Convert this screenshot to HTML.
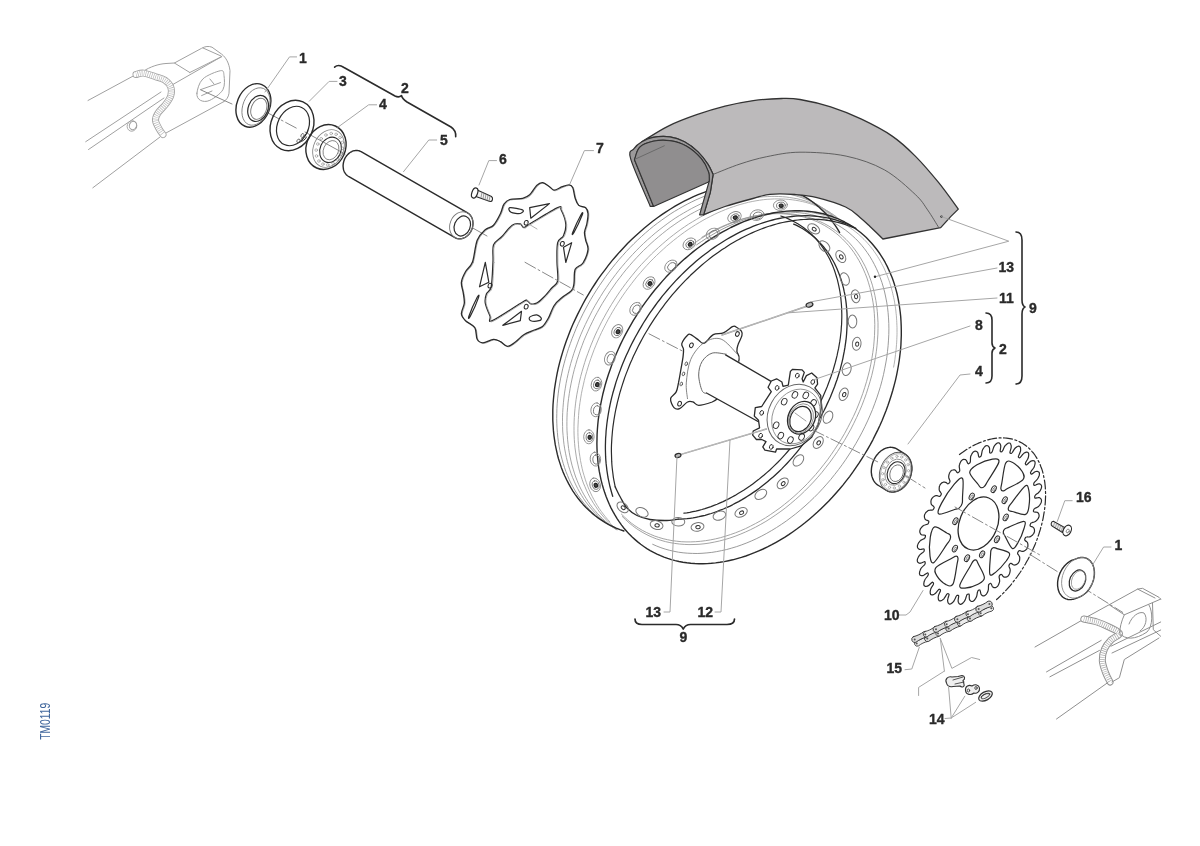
<!DOCTYPE html>
<html><head><meta charset="utf-8"><style>
html,body{margin:0;padding:0;background:#fff;}
svg{display:block;will-change:transform;}
text{font-family:"Liberation Sans",sans-serif;font-weight:bold;fill:#2a2a2a;stroke:#2a2a2a;stroke-width:0.35px;}
</style></head><body>
<svg width="1200" height="846" viewBox="0 0 1200 846" stroke-linecap="round" stroke-linejoin="round">
<path d="M88.0,100.5 L136.0,74.5" fill="none" stroke="#a0a0a0" stroke-width="1" />
<path d="M85.7,141.7 L161.0,92.0" fill="none" stroke="#a0a0a0" stroke-width="1" />
<path d="M172.0,85.0 L221.7,56.6" fill="none" stroke="#a0a0a0" stroke-width="1" />
<path d="M88.5,149.5 L164.0,98.0" fill="none" stroke="#a0a0a0" stroke-width="1" />
<path d="M92.8,187.8 L160.0,137.0" fill="none" stroke="#a0a0a0" stroke-width="1" />
<path d="M166.0,133.0 L224.0,101.5" fill="none" stroke="#a0a0a0" stroke-width="1" />
<path d="M143.6,71 C150,67 158,64 166,63.5 L174.4,63 L201.6,48.3 C205,46.2 209,46 212,47.2 L221.7,54.2 C226,57.5 229,63 230,70.7 L229,93.2 C228.5,97 226.5,100 224,101.5" fill="none" stroke="#a0a0a0" stroke-width="1" />
<path d="M174.4,63.0 L189.8,72.5" fill="none" stroke="#a0a0a0" stroke-width="1" />
<path d="M189.8,72.5 L221.7,56.6" fill="none" stroke="#a0a0a0" stroke-width="1" />
<path d="M203.0,48.0 L221.0,56.0" fill="none" stroke="#a0a0a0" stroke-width="1" />
<path d="M196.9,93.2 C197.3,89.7 198.9,82.8 202.8,79.0 C206.7,75.2 217.0,71.3 220.5,70.7 C224.0,70.1 223.6,72.3 224.0,75.5 C224.4,78.7 225.2,85.6 222.9,89.7 C220.6,93.8 213.7,98.5 209.9,100.3 C206.2,102.1 202.6,101.5 200.4,100.3 C198.2,99.1 196.5,96.8 196.9,93.2 Z" fill="none" stroke="#a0a0a0" stroke-width="1" />
<path d="M200.4,89.7 L220.5,82.6" fill="none" stroke="#a0a0a0" stroke-width="1" />
<path d="M209.9,79.0 L214.0,84.0" fill="none" stroke="#a0a0a0" stroke-width="1" />
<path d="M201.6,95.6 L212.0,91.0" fill="none" stroke="#a0a0a0" stroke-width="1" />
<path d="M136.0,74.5 C137.3,74.3 140.3,72.7 143.6,73.1 C146.8,73.5 151.9,75.5 155.5,76.7 C159.1,77.9 162.3,78.4 164.9,80.2 C167.5,82.0 169.8,84.7 170.8,87.3 C171.8,89.9 171.6,92.8 170.8,95.6 C170.0,98.3 168.3,100.8 166.1,103.8 C163.9,106.8 159.6,110.5 157.8,113.3 C156.0,116.1 155.3,117.8 155.5,120.4 C155.7,123.0 157.8,126.3 159.0,128.7 C160.2,131.1 162.3,133.6 163.0,134.6" fill="none" stroke="#a4a4a4" stroke-width="7" />
<path d="M136.0,74.5 C137.3,74.3 140.3,72.7 143.6,73.1 C146.8,73.5 151.9,75.5 155.5,76.7 C159.1,77.9 162.3,78.4 164.9,80.2 C167.5,82.0 169.8,84.7 170.8,87.3 C171.8,89.9 171.6,92.8 170.8,95.6 C170.0,98.3 168.3,100.8 166.1,103.8 C163.9,106.8 159.6,110.5 157.8,113.3 C156.0,116.1 155.3,117.8 155.5,120.4 C155.7,123.0 157.8,126.3 159.0,128.7 C160.2,131.1 162.3,133.6 163.0,134.6" fill="none" stroke="#fff" stroke-width="5.2" />
<path d="M136.0,74.5 C137.3,74.3 140.3,72.7 143.6,73.1 C146.8,73.5 151.9,75.5 155.5,76.7 C159.1,77.9 162.3,78.4 164.9,80.2 C167.5,82.0 169.8,84.7 170.8,87.3 C171.8,89.9 171.6,92.8 170.8,95.6 C170.0,98.3 168.3,100.8 166.1,103.8 C163.9,106.8 159.6,110.5 157.8,113.3 C156.0,116.1 155.3,117.8 155.5,120.4 C155.7,123.0 157.8,126.3 159.0,128.7 C160.2,131.1 162.3,133.6 163.0,134.6" fill="none" stroke="#b8b8b8" stroke-width="5.2" stroke-dasharray="0.7 1.3" stroke-linecap="butt"/>
<ellipse cx="133" cy="125.5" rx="3.6" ry="4.2" transform="rotate(20 133 125.5)" fill="none" stroke="#a0a0a0" stroke-width="1" />
<ellipse cx="132" cy="126" rx="4.8" ry="5.3" transform="rotate(20 132 126)" fill="none" stroke="#a0a0a0" stroke-width="0.8" />
<line x1="201" y1="90" x2="232" y2="104" stroke="#888" stroke-width="1" />
<line x1="268" y1="113" x2="298" y2="129" stroke="#888" stroke-width="1" stroke-dasharray="12 3 2 3"/>
<line x1="305" y1="132" x2="345" y2="154" stroke="#888" stroke-width="1" />
<line x1="462" y1="222" x2="487" y2="236" stroke="#888" stroke-width="1" />
<ellipse cx="253.4" cy="105.4" rx="16.5" ry="22.5" transform="rotate(22 253.4 105.4)" fill="none" stroke="#2b2b2b" stroke-width="1.4" />
<ellipse cx="256" cy="106.5" rx="13" ry="19.5" transform="rotate(22 256 106.5)" fill="none" stroke="#777" stroke-width="0.8" />
<ellipse cx="258.1" cy="108.4" rx="9.8" ry="13.5" transform="rotate(22 258.1 108.4)" fill="none" stroke="#2b2b2b" stroke-width="1.2" />
<ellipse cx="258.8" cy="108.8" rx="7.5" ry="11" transform="rotate(22 258.8 108.8)" fill="none" stroke="#777" stroke-width="0.9" />
<ellipse cx="292" cy="125.5" rx="21" ry="26" transform="rotate(25 292 125.5)" fill="none" stroke="#2b2b2b" stroke-width="1.4" />
<ellipse cx="293" cy="126" rx="15.5" ry="20.5" transform="rotate(25 293 126)" fill="none" stroke="#2b2b2b" stroke-width="1.2" />
<path d="M301.5,139 C304,136 307,134 308,131 M299,142.5 C302.5,141 305.5,140 306.5,137" fill="none" stroke="#2b2b2b" stroke-width="1.0" />
<ellipse cx="302.5" cy="135.5" rx="1.5" ry="2" transform="rotate(25 302.5 135.5)" fill="none" stroke="#555" stroke-width="0.8" />
<ellipse cx="298.5" cy="141" rx="1.5" ry="2" transform="rotate(25 298.5 141)" fill="none" stroke="#555" stroke-width="0.8" />
<ellipse cx="326" cy="147" rx="19.5" ry="23" transform="rotate(24 326 147)" fill="none" stroke="#2b2b2b" stroke-width="1.4" />
<ellipse cx="328.5" cy="148.5" rx="15" ry="19.5" transform="rotate(24 328.5 148.5)" fill="none" stroke="#888" stroke-width="0.9" />
<ellipse cx="330.5" cy="149.8" rx="10.5" ry="13" transform="rotate(24 330.5 149.8)" fill="none" stroke="#2b2b2b" stroke-width="1.1" />
<ellipse cx="331" cy="150.2" rx="7.5" ry="10" transform="rotate(24 331 150.2)" fill="none" stroke="#777" stroke-width="0.8" />
<circle cx="341.2" cy="154.4" r="1.3" fill="none" stroke="#888" stroke-width="0.6"/>
<circle cx="337.8" cy="159.7" r="1.3" fill="none" stroke="#888" stroke-width="0.6"/>
<circle cx="333.1" cy="163.4" r="1.3" fill="none" stroke="#888" stroke-width="0.6"/>
<circle cx="327.8" cy="164.9" r="1.3" fill="none" stroke="#888" stroke-width="0.6"/>
<circle cx="322.9" cy="164.1" r="1.3" fill="none" stroke="#888" stroke-width="0.6"/>
<circle cx="318.9" cy="161.0" r="1.3" fill="none" stroke="#888" stroke-width="0.6"/>
<circle cx="316.5" cy="156.0" r="1.3" fill="none" stroke="#888" stroke-width="0.6"/>
<circle cx="316.2" cy="150.1" r="1.3" fill="none" stroke="#888" stroke-width="0.6"/>
<circle cx="317.8" cy="144.0" r="1.3" fill="none" stroke="#888" stroke-width="0.6"/>
<circle cx="321.2" cy="138.7" r="1.3" fill="none" stroke="#888" stroke-width="0.6"/>
<circle cx="325.9" cy="135.0" r="1.3" fill="none" stroke="#888" stroke-width="0.6"/>
<circle cx="331.2" cy="133.5" r="1.3" fill="none" stroke="#888" stroke-width="0.6"/>
<circle cx="336.1" cy="134.3" r="1.3" fill="none" stroke="#888" stroke-width="0.6"/>
<circle cx="340.1" cy="137.4" r="1.3" fill="none" stroke="#888" stroke-width="0.6"/>
<circle cx="342.5" cy="142.4" r="1.3" fill="none" stroke="#888" stroke-width="0.6"/>
<circle cx="342.8" cy="148.3" r="1.3" fill="none" stroke="#888" stroke-width="0.6"/>
<path d="M343.1,166.3 L343.1,165.4 L343.2,164.4 L343.3,163.5 L343.5,162.5 L343.7,161.6 L344.0,160.7 L344.3,159.8 L344.7,158.9 L345.1,158.0 L345.6,157.2 L346.2,156.4 L346.7,155.6 L347.4,154.9 L348.0,154.2 L348.7,153.6 L349.4,153.0 L350.1,152.5 L350.9,152.0 L351.7,151.6 L352.4,151.2 L353.3,150.9 L354.1,150.7 L354.9,150.6 L355.7,150.5 L356.5,150.4 L357.3,150.5 L358.1,150.6 L358.9,150.7 L359.6,151.0 L360.4,151.3 L361.1,151.6 L467.6,212.9 L468.2,213.3 L468.9,213.8 L469.5,214.3 L470.1,214.9 L470.6,215.6 L471.1,216.3 L471.5,217.0 L471.9,217.8 L472.2,218.6 L472.4,219.4 L472.7,220.3 L472.8,221.2 L472.9,222.1 L473.0,223.0 L473.0,223.9 L472.9,224.9 L472.8,225.8 L472.6,226.8 L472.4,227.7 L472.1,228.6 L471.8,229.5 L471.4,230.4 L470.9,231.3 L470.5,232.1 L469.9,232.9 L469.4,233.7 L468.8,234.4 L468.1,235.1 L467.4,235.7 L466.7,236.3 L466.0,236.8 L465.2,237.3 L464.4,237.7 L463.6,238.1 L462.8,238.3 L462.0,238.6 L461.2,238.7 L460.4,238.8 L459.6,238.9 L458.8,238.8 L458.0,238.7 L457.2,238.6 L456.5,238.3 L455.7,238.0 L455.0,237.7 L348.5,176.4 L347.9,176.0 L347.2,175.5 L346.6,174.9 L346.1,174.4 L345.5,173.7 L345.1,173.0 L344.6,172.3 L344.2,171.6 L343.9,170.8 L343.6,169.9 L343.4,169.0 L343.3,168.2 L343.2,167.2 Z" fill="#fff" stroke="#2b2b2b" stroke-width="1.4" />
<ellipse cx="461.3" cy="225.3" rx="11.3" ry="13.9" transform="rotate(22 461.3 225.3)" fill="none" stroke="#777" stroke-width="0.9" />
<ellipse cx="462.3" cy="226" rx="7.9" ry="10.3" transform="rotate(22 462.3 226)" fill="none" stroke="#2b2b2b" stroke-width="1.2" />
<path d="M475,189 L491.5,196.5 C493.5,198 492.5,202 490,201.5 L474.5,196 Z" fill="#f4f4f4" stroke="#2b2b2b" stroke-width="1.1" />
<line x1="482" y1="192.5" x2="481" y2="197.5" stroke="#777" stroke-width="0.7" />
<line x1="484" y1="193.45" x2="483" y2="198.45" stroke="#777" stroke-width="0.7" />
<line x1="486" y1="194.4" x2="485" y2="199.4" stroke="#777" stroke-width="0.7" />
<line x1="488" y1="195.35" x2="487" y2="200.35" stroke="#777" stroke-width="0.7" />
<line x1="490" y1="196.3" x2="489" y2="201.3" stroke="#777" stroke-width="0.7" />
<ellipse cx="474.7" cy="193" rx="2.8" ry="5.2" transform="rotate(20 474.7 193)" fill="#fff" stroke="#2b2b2b" stroke-width="1.2" />
<path d="M473.3,262.6 C475.2,257.4 475.9,246.3 478.0,240.9 C480.1,235.5 483.4,232.9 486.1,230.4 C488.8,227.9 491.8,228.5 494.3,225.8 C496.8,223.1 499.6,217.6 501.3,214.1 C503.1,210.6 503.2,207.1 504.8,204.8 C506.4,202.5 507.5,201.1 510.6,200.1 C513.7,199.1 520.2,199.7 523.5,198.9 C526.8,198.1 528.2,197.5 530.5,195.4 C532.8,193.3 535.4,188.1 537.5,186.1 C539.6,184.1 541.2,183.0 543.3,183.2 C545.4,183.4 548.3,186.0 550.3,187.3 C552.2,188.6 552.9,190.8 555.0,190.8 C557.1,190.8 560.6,188.2 563.1,187.3 C565.6,186.4 568.3,185.3 570.1,185.5 C571.8,185.7 572.6,186.2 573.6,188.4 C574.6,190.6 575.0,196.0 576.0,198.9 C577.0,201.8 577.8,204.3 579.5,205.9 C581.2,207.5 585.0,206.9 586.5,208.3 C588.0,209.7 588.6,211.4 588.8,214.1 C589.0,216.8 588.2,221.5 587.6,224.6 C587.0,227.7 585.5,230.1 585.3,232.8 C585.1,235.5 585.9,238.0 586.5,240.9 C587.1,243.8 589.2,246.5 588.8,250.3 C588.3,254.1 585.9,260.3 583.8,263.6 C581.7,266.9 577.5,266.5 576.0,269.9 C574.5,273.3 575.4,280.4 574.8,283.9 C574.2,287.4 574.5,288.6 572.5,290.9 C570.5,293.2 566.0,295.4 563.1,297.9 C560.2,300.4 557.3,302.6 555.0,306.1 C552.7,309.6 551.0,315.4 549.1,318.9 C547.1,322.4 545.6,325.2 543.3,327.1 C541.0,329.1 538.2,329.2 535.1,330.6 C532.0,332.0 527.7,333.4 524.6,335.3 C521.5,337.2 519.2,340.4 516.5,342.3 C513.8,344.2 510.8,346.9 508.3,346.9 C505.8,346.9 503.6,343.5 501.3,342.3 C499.0,341.1 497.2,339.7 494.3,339.9 C491.4,340.1 486.5,343.4 483.8,343.4 C481.1,343.4 479.4,342.4 478.0,339.9 C476.6,337.4 477.6,331.4 475.6,328.3 C473.7,325.2 468.5,323.6 466.3,321.3 C464.1,319.0 462.4,317.2 462.2,314.3 C462.0,311.4 464.8,307.3 465.1,303.8 C465.4,300.3 464.5,296.8 464.0,293.3 C463.5,289.8 461.8,286.3 462.2,282.8 C462.6,279.3 464.4,275.7 466.3,272.3 C468.2,268.9 471.4,267.8 473.3,262.6 Z" fill="none" stroke="#9a9a9a" stroke-width="0.8" />
<path d="M472.5,262.0 C474.4,256.8 475.1,245.7 477.2,240.3 C479.3,234.9 482.6,232.3 485.3,229.8 C488.0,227.3 491.0,227.9 493.5,225.2 C496.0,222.5 498.8,217.0 500.5,213.5 C502.2,210.0 502.4,206.5 504.0,204.2 C505.6,201.9 506.7,200.5 509.8,199.5 C512.9,198.5 519.4,199.1 522.7,198.3 C526.0,197.5 527.4,196.9 529.7,194.8 C532.0,192.7 534.6,187.5 536.7,185.5 C538.8,183.5 540.4,182.4 542.5,182.6 C544.6,182.8 547.5,185.4 549.5,186.7 C551.5,188.0 552.1,190.2 554.2,190.2 C556.3,190.2 559.8,187.6 562.3,186.7 C564.8,185.8 567.5,184.7 569.3,184.9 C571.0,185.1 571.8,185.6 572.8,187.8 C573.8,190.0 574.2,195.4 575.2,198.3 C576.2,201.2 577.0,203.7 578.7,205.3 C580.5,206.9 584.2,206.3 585.7,207.7 C587.2,209.1 587.8,210.8 588.0,213.5 C588.2,216.2 587.4,220.9 586.8,224.0 C586.2,227.1 584.7,229.5 584.5,232.2 C584.3,234.9 585.1,237.4 585.7,240.3 C586.3,243.2 588.5,245.9 588.0,249.7 C587.5,253.5 585.1,259.7 583.0,263.0 C580.9,266.3 576.7,265.9 575.2,269.3 C573.7,272.7 574.6,279.8 574.0,283.3 C573.4,286.8 573.7,288.0 571.7,290.3 C569.8,292.6 565.2,294.8 562.3,297.3 C559.4,299.8 556.5,302.0 554.2,305.5 C551.9,309.0 550.2,314.8 548.3,318.3 C546.3,321.8 544.8,324.6 542.5,326.5 C540.2,328.4 537.4,328.6 534.3,330.0 C531.2,331.4 526.9,332.8 523.8,334.7 C520.7,336.6 518.4,339.8 515.7,341.7 C513.0,343.6 510.0,346.3 507.5,346.3 C505.0,346.3 502.8,342.9 500.5,341.7 C498.2,340.5 496.4,339.1 493.5,339.3 C490.6,339.5 485.7,342.8 483.0,342.8 C480.3,342.8 478.6,341.8 477.2,339.3 C475.8,336.8 476.8,330.8 474.8,327.7 C472.9,324.6 467.7,323.0 465.5,320.7 C463.3,318.4 461.6,316.6 461.4,313.7 C461.2,310.8 464.0,306.7 464.3,303.2 C464.6,299.7 463.7,296.2 463.2,292.7 C462.7,289.2 461.0,285.7 461.4,282.2 C461.8,278.7 463.6,275.1 465.5,271.7 C467.4,268.3 470.6,267.2 472.5,262.0 Z" fill="none" stroke="#2b2b2b" stroke-width="1.3" />
<path d="M493.0,262.0 C493.4,255.0 492.1,249.2 493.5,245.0 C494.9,240.8 498.6,240.1 501.7,236.8 C504.8,233.5 509.1,227.3 512.2,225.2 C515.3,223.1 518.4,223.6 520.3,224.0 C522.2,224.4 522.2,227.5 523.8,227.5 C525.4,227.5 524.1,227.3 529.7,224.0 C535.4,220.7 552.5,210.0 557.7,207.7 C563.0,205.4 559.9,207.3 561.2,210.0 C562.6,212.7 565.4,219.7 565.8,224.0 C566.2,228.3 564.9,232.6 563.5,235.7 C562.1,238.8 558.8,238.3 557.7,242.7 C556.6,247.1 557.0,255.6 557.0,262.0 C557.0,268.4 558.6,276.7 557.7,281.0 C556.8,285.3 554.1,285.3 551.8,288.0 C549.5,290.7 546.2,294.8 543.7,297.3 C541.2,299.8 538.9,302.1 536.7,303.2 C534.6,304.3 532.4,304.2 530.8,303.8 C529.2,303.4 528.6,301.1 527.3,300.8 C525.9,300.5 528.5,298.7 522.7,302.0 C516.9,305.3 497.8,318.4 492.3,320.7 C486.9,323.0 491.2,318.9 490.0,316.0 C488.8,313.1 485.9,306.9 485.3,303.2 C484.7,299.5 485.5,296.5 486.5,293.8 C487.5,291.1 490.1,292.1 491.2,286.8 C492.3,281.5 492.6,269.0 493.0,262.0 Z" fill="none" stroke="#2b2b2b" stroke-width="1.3" />
<path d="M493.9,262.5 C494.3,255.5 492.9,249.7 494.4,245.5 C495.8,241.3 499.5,240.6 502.6,237.3 C505.7,234.0 510.0,227.8 513.1,225.7 C516.2,223.6 519.3,224.1 521.2,224.5 C523.1,224.9 523.1,228.0 524.7,228.0 C526.3,228.0 525.0,227.8 530.6,224.5 C536.2,221.2 553.4,210.5 558.6,208.2 C563.9,205.9 560.8,207.8 562.1,210.5 C563.5,213.2 566.3,220.2 566.7,224.5 C567.1,228.8 565.8,233.1 564.4,236.2 C563.0,239.3 559.7,238.8 558.6,243.2 C557.5,247.6 557.9,256.1 557.9,262.5 C557.9,268.9 559.5,277.2 558.6,281.5 C557.7,285.8 555.0,285.8 552.7,288.5 C550.4,291.2 547.1,295.3 544.6,297.8 C542.1,300.3 539.8,302.6 537.6,303.7 C535.5,304.8 533.3,304.7 531.7,304.3 C530.1,303.9 529.5,301.6 528.2,301.3 C526.8,301.0 529.4,299.2 523.6,302.5 C517.8,305.8 498.6,318.9 493.2,321.2 C487.8,323.5 492.1,319.4 490.9,316.5 C489.7,313.6 486.8,307.4 486.2,303.7 C485.6,300.0 486.4,297.0 487.4,294.3 C488.4,291.6 491.0,292.6 492.1,287.3 C493.2,282.0 493.5,269.5 493.9,262.5 Z" fill="none" stroke="#9a9a9a" stroke-width="0.8" />
<path d="M509.8,207.7 C511.8,207.3 521.0,209.0 522.7,210.0 C524.5,211.0 522.2,213.1 520.3,213.5 C518.3,213.9 512.8,213.3 511.0,212.3 C509.2,211.3 507.9,208.1 509.8,207.7 Z" fill="none" stroke="#2b2b2b" stroke-width="1.2" />
<path d="M529.7,207.7 L549.5,203.6 L530.8,218.2 Z" fill="none" stroke="#2b2b2b" stroke-width="1.2" />
<path d="M581.0,214.7 C579.4,217.6 574.0,229.2 572.8,232.2 C571.6,235.2 572.4,235.4 574.0,232.5 C575.6,229.6 581.0,218.0 582.2,215.0 C583.4,212.0 582.6,211.8 581.0,214.7 Z" fill="none" stroke="#2b2b2b" stroke-width="1.2" />
<path d="M563.5,247.3 L571.7,242.7 L565.8,262.5 Z" fill="none" stroke="#2b2b2b" stroke-width="1.2" />
<path d="M479.5,286.8 L485.3,262.3 L488.8,282.2 Z" fill="none" stroke="#2b2b2b" stroke-width="1.2" />
<path d="M477.2,297.3 C475.6,300.4 470.1,312.8 469.0,316.0 C467.9,319.2 468.7,319.4 470.3,316.3 C471.9,313.2 477.4,300.8 478.5,297.6 C479.6,294.4 478.8,294.2 477.2,297.3 Z" fill="none" stroke="#2b2b2b" stroke-width="1.2" />
<path d="M502.8,325.3 L521.5,311.3 L520.3,320.7 Z" fill="none" stroke="#2b2b2b" stroke-width="1.2" />
<path d="M529.7,317.2 C530.7,316.2 534.8,314.6 536.7,314.8 C538.6,315.0 540.9,317.3 541.3,318.3 C541.7,319.3 540.8,320.3 539.0,320.7 C537.2,321.1 532.3,321.3 530.8,320.7 C529.2,320.1 528.7,318.2 529.7,317.2 Z" fill="none" stroke="#2b2b2b" stroke-width="1.2" />
<ellipse cx="526.2" cy="222.8" rx="1.9" ry="2.4" transform="rotate(20 526.2 222.8)" fill="none" stroke="#2b2b2b" stroke-width="1.0" />
<ellipse cx="562.3" cy="243.8" rx="1.9" ry="2.4" transform="rotate(20 562.3 243.8)" fill="none" stroke="#2b2b2b" stroke-width="1.0" />
<ellipse cx="490" cy="285.7" rx="1.9" ry="2.4" transform="rotate(20 490 285.7)" fill="none" stroke="#2b2b2b" stroke-width="1.0" />
<ellipse cx="526.2" cy="306.7" rx="1.9" ry="2.4" transform="rotate(20 526.2 306.7)" fill="none" stroke="#2b2b2b" stroke-width="1.0" />
<line x1="525" y1="262.3" x2="583.3" y2="295" stroke="#888" stroke-width="1" stroke-dasharray="12 3 2 3"/>
<line x1="649" y1="333.8" x2="682" y2="350.8" stroke="#888" stroke-width="1" stroke-dasharray="12 3 2 3"/>
<line x1="527" y1="223" x2="537" y2="229" stroke="#999" stroke-width="0.8" />
<path d="M617.0,529.1 L613.5,527.4 L610.2,525.6 L606.9,523.6 L603.7,521.5 L600.6,519.3 L597.6,516.9 L594.7,514.4 L591.8,511.8 L589.1,509.1 L586.5,506.2 L583.9,503.2 L581.5,500.1 L579.1,496.9 L576.9,493.6 L574.8,490.2 L572.8,486.6 L570.9,483.0 L569.1,479.3 L567.5,475.4 L565.9,471.5 L564.5,467.5 L563.2,463.4 L562.0,459.2 L560.9,454.9 L559.9,450.6 L559.1,446.2 L558.4,441.7 L557.8,437.2 L557.4,432.6 L557.0,427.9 L556.8,423.2 L556.7,418.4 L556.8,413.6 L556.9,408.7 L557.2,403.8 L557.6,398.9 L558.2,393.9 L558.8,389.0 L559.6,384.0 L560.5,378.9 L561.6,373.9 L562.7,368.8 L564.0,363.8 L565.4,358.7 L566.9,353.7 L568.5,348.6 L570.3,343.6 L572.1,338.6 L574.1,333.6 L576.1,328.6 L578.3,323.6 L580.6,318.7 L583.0,313.8 L585.5,309.0 L588.1,304.2 L590.8,299.4 L593.6,294.7 L596.5,290.1 L599.5,285.5 L602.6,281.0 L605.7,276.5 L609.0,272.1 L612.3,267.8 L615.7,263.6 L619.2,259.4 L622.8,255.4 L626.4,251.4 L630.1,247.5 L633.9,243.7 L637.7,240.0 L641.6,236.4 L645.5,232.9 L649.5,229.5 L653.5,226.2 L657.6,223.1 L661.8,220.0 L665.9,217.1 L670.1,214.2 L674.3,211.5 L678.6,209.0 L682.9,206.5 L687.2,204.2 L691.5,202.0 L695.9,199.9 L700.2,198.0 L704.6,196.2 L708.9,194.6 L713.3,193.1 L717.7,191.7 L722.0,190.4 L726.3,189.3 L730.7,188.4 L735.0,187.6 L739.3,186.9 L743.5,186.4 L747.8,186.0 L752.0,185.7 L756.1,185.6 L760.2,185.7 L764.3,185.9 L768.4,186.2 L772.4,186.7 L776.3,187.3 L780.2,188.1 L784.0,189.0 L787.8,190.1 L791.5,191.3 L795.1,192.6 L798.7,194.1 L802.1,195.7 L805.5,197.5 L808.9,199.4 L812.1,201.4 L815.3,203.5 L818.4,205.8 L821.4,208.2 L824.2,210.8 L827.0,213.4 L829.7,216.2 L832.4,219.1" fill="none" stroke="#8e8e8e" stroke-width="0.9" />
<path d="M616.5,529.5 L613.3,527.6 L610.2,525.6 L607.1,523.4 L604.1,521.1 L601.3,518.8 L598.5,516.2 L595.8,513.6 L593.2,510.9 L590.7,508.0 L588.2,505.0 L585.9,502.0 L583.7,498.8 L581.6,495.5 L579.6,492.1 L577.7,488.6 L575.9,485.0 L574.2,481.3 L572.6,477.6 L571.1,473.7 L569.8,469.8 L568.5,465.7 L567.4,461.6 L566.4,457.5 L565.5,453.2 L564.7,448.9 L564.0,444.5 L563.5,440.1 L563.1,435.6 L562.7,431.0 L562.6,426.4 L562.5,421.8 L562.5,417.1 L562.7,412.4 L563.0,407.6 L563.4,402.8 L563.9,398.0 L564.5,393.1 L565.3,388.2 L566.1,383.3 L567.1,378.4 L568.2,373.5 L569.4,368.6 L570.7,363.6 L572.2,358.7 L573.7,353.8 L575.4,348.9 L577.2,344.0 L579.0,339.1 L581.0,334.2 L583.1,329.4 L585.3,324.6 L587.6,319.8 L590.0,315.1 L592.4,310.4 L595.0,305.7 L597.7,301.1 L600.5,296.5 L603.3,292.0 L606.3,287.6 L609.3,283.2 L612.4,278.9 L615.6,274.6 L618.8,270.4 L622.2,266.3 L625.6,262.3 L629.1,258.3 L632.6,254.5 L636.2,250.7 L639.9,247.0 L643.6,243.4 L647.4,239.9 L651.3,236.5 L655.1,233.2 L659.1,230.0 L663.1,226.9 L667.1,223.9 L671.1,221.0 L675.2,218.2 L679.3,215.6 L683.5,213.1 L687.7,210.7 L691.8,208.4 L696.1,206.2 L700.3,204.1 L704.5,202.2 L708.8,200.4 L713.0,198.8 L717.3,197.2 L721.5,195.8 L725.8,194.6 L730.0,193.4 L734.2,192.4 L738.4,191.6 L742.6,190.8 L746.8,190.2 L750.9,189.8 L755.0,189.5 L759.1,189.3 L763.2,189.2 L767.2,189.3 L771.1,189.5 L775.1,189.9 L778.9,190.4 L782.8,191.1 L786.5,191.8 L790.3,192.7 L793.9,193.8 L797.5,195.0 L801.1,196.3 L804.5,197.7 L807.9,199.3 L811.2,201.0 L814.5,202.9 L817.7,204.8 L820.7,206.9 L823.8,209.1 L826.7,211.5 L829.5,213.9 L832.3,216.5 L834.9,219.2" fill="none" stroke="#9a9a9a" stroke-width="0.9" />
<path d="M616.9,529.9 L613.9,527.8 L610.9,525.7 L608.0,523.5 L605.2,521.1 L602.5,518.6 L599.9,516.0 L597.3,513.3 L594.9,510.5 L592.5,507.6 L590.2,504.6 L588.1,501.5 L586.0,498.2 L584.0,494.9 L582.2,491.5 L580.4,488.0 L578.7,484.4 L577.2,480.7 L575.7,477.0 L574.4,473.1 L573.2,469.2 L572.0,465.2 L571.0,461.1 L570.1,457.0 L569.3,452.8 L568.6,448.5 L568.1,444.2 L567.6,439.8 L567.3,435.3 L567.0,430.8 L566.9,426.3 L566.9,421.7 L567.0,417.1 L567.2,412.4 L567.6,407.8 L568.0,403.0 L568.6,398.3 L569.3,393.5 L570.1,388.7 L571.0,383.9 L572.0,379.1 L573.1,374.3 L574.3,369.5 L575.7,364.7 L577.1,359.8 L578.7,355.0 L580.3,350.2 L582.1,345.4 L583.9,340.6 L585.9,335.9 L588.0,331.2 L590.1,326.5 L592.4,321.8 L594.7,317.1 L597.2,312.5 L599.7,308.0 L602.3,303.5 L605.1,299.0 L607.9,294.6 L610.7,290.3 L613.7,286.0 L616.7,281.7 L619.9,277.6 L623.0,273.5 L626.3,269.4 L629.6,265.5 L633.0,261.6 L636.5,257.8 L640.0,254.1 L643.6,250.4 L647.3,246.9 L651.0,243.4 L654.7,240.1 L658.5,236.8 L662.3,233.7 L666.2,230.6 L670.1,227.6 L674.1,224.8 L678.1,222.0 L682.1,219.4 L686.2,216.9 L690.2,214.4 L694.3,212.2 L698.5,210.0 L702.6,207.9 L706.7,206.0 L710.9,204.1 L715.0,202.4 L719.2,200.9 L723.4,199.4 L727.5,198.1 L731.7,196.9 L735.8,195.8 L739.9,194.9 L744.1,194.1 L748.2,193.4 L752.2,192.9 L756.3,192.4 L760.3,192.2 L764.3,192.0 L768.2,192.0 L772.2,192.1 L776.0,192.3 L779.9,192.7 L783.7,193.2 L787.4,193.9 L791.1,194.6 L794.8,195.5 L798.3,196.6 L801.9,197.7 L805.3,199.0 L808.7,200.4 L812.0,201.9 L815.3,203.6 L818.5,205.4 L821.6,207.3 L824.7,209.3 L827.6,211.5 L830.5,213.7 L833.3,216.1 L836.0,218.6" fill="none" stroke="#9a9a9a" stroke-width="0.9" />
<path d="M614.5,527.4 L611.9,525.1 L609.3,522.8 L606.8,520.3 L604.3,517.7 L602.0,515.0 L599.7,512.2 L597.6,509.3 L595.5,506.3 L593.5,503.3 L591.6,500.1 L589.7,496.9 L588.0,493.5 L586.4,490.1 L584.9,486.6 L583.4,483.1 L582.1,479.4 L580.9,475.7 L579.7,471.9 L578.7,468.0 L577.8,464.1 L576.9,460.1 L576.2,456.1 L575.6,452.0 L575.0,447.8 L574.6,443.6 L574.3,439.4 L574.1,435.1 L574.0,430.7 L574.0,426.3 L574.1,421.9 L574.3,417.4 L574.6,413.0 L575.0,408.5 L575.5,403.9 L576.1,399.4 L576.8,394.8 L577.7,390.2 L578.6,385.6 L579.6,381.0 L580.7,376.4 L582.0,371.7 L583.3,367.1 L584.7,362.5 L586.2,357.9 L587.9,353.3 L589.6,348.7 L591.4,344.1 L593.3,339.6 L595.2,335.1 L597.3,330.6 L599.5,326.1 L601.7,321.7 L604.1,317.3 L606.5,312.9 L609.0,308.6 L611.6,304.3 L614.3,300.0 L617.0,295.9 L619.8,291.7 L622.7,287.7 L625.7,283.6 L628.7,279.7 L631.8,275.8 L634.9,272.0 L638.1,268.2 L641.4,264.5 L644.8,260.9 L648.2,257.4 L651.6,253.9 L655.1,250.6 L658.7,247.3 L662.3,244.1 L665.9,241.0 L669.6,237.9 L673.3,235.0 L677.0,232.2 L680.8,229.4 L684.6,226.8 L688.5,224.2 L692.4,221.8 L696.3,219.5 L700.2,217.2 L704.1,215.1 L708.1,213.1 L712.0,211.2 L716.0,209.4 L720.0,207.7 L724.0,206.1 L727.9,204.7 L731.9,203.3 L735.9,202.1 L739.9,201.0 L743.8,200.0 L747.8,199.1 L751.7,198.4 L755.7,197.8 L759.6,197.2 L763.4,196.8 L767.3,196.6 L771.1,196.4 L774.9,196.4 L778.7,196.5 L782.4,196.7 L786.1,197.0 L789.7,197.5 L793.3,198.1 L796.9,198.7 L800.4,199.6 L803.8,200.5 L807.2,201.5 L810.6,202.7 L813.8,204.0 L817.1,205.4 L820.2,206.9 L823.3,208.5 L826.4,210.3 L829.3,212.1 L832.2,214.1 L835.0,216.1 L837.8,218.3" fill="none" stroke="#a0a0a0" stroke-width="0.9" />
<path d="M609.9,521.9 L607.6,519.4 L605.4,516.8 L603.3,514.1 L601.2,511.3 L599.2,508.5 L597.3,505.5 L595.5,502.5 L593.8,499.4 L592.1,496.2 L590.6,493.0 L589.1,489.7 L587.7,486.3 L586.4,482.8 L585.2,479.2 L584.1,475.6 L583.0,472.0 L582.1,468.3 L581.3,464.5 L580.5,460.6 L579.9,456.7 L579.3,452.8 L578.8,448.8 L578.5,444.8 L578.2,440.7 L578.0,436.6 L577.9,432.4 L577.9,428.2 L578.1,424.0 L578.3,419.7 L578.6,415.4 L578.9,411.1 L579.4,406.8 L580.0,402.4 L580.7,398.1 L581.4,393.7 L582.3,389.3 L583.3,384.9 L584.3,380.5 L585.4,376.1 L586.7,371.6 L588.0,367.2 L589.4,362.8 L590.9,358.4 L592.5,354.0 L594.1,349.7 L595.9,345.3 L597.7,341.0 L599.6,336.6 L601.6,332.3 L603.7,328.1 L605.9,323.8 L608.1,319.6 L610.4,315.5 L612.8,311.3 L615.3,307.2 L617.8,303.2 L620.4,299.2 L623.1,295.2 L625.8,291.3 L628.6,287.5 L631.5,283.7 L634.4,279.9 L637.4,276.2 L640.5,272.6 L643.6,269.0 L646.7,265.6 L649.9,262.1 L653.2,258.8 L656.5,255.5 L659.9,252.3 L663.3,249.2 L666.7,246.1 L670.2,243.2 L673.7,240.3 L677.3,237.5 L680.8,234.8 L684.5,232.1 L688.1,229.6 L691.8,227.2 L695.5,224.8 L699.2,222.6 L702.9,220.4 L706.7,218.3 L710.5,216.4 L714.2,214.5 L718.0,212.7 L721.8,211.1 L725.6,209.5 L729.4,208.0 L733.3,206.7 L737.1,205.4 L740.9,204.3 L744.7,203.3 L748.4,202.3 L752.2,201.5 L756.0,200.8 L759.7,200.2 L763.4,199.7 L767.1,199.3 L770.8,199.1 L774.5,198.9 L778.1,198.9 L781.7,198.9 L785.3,199.1 L788.8,199.4 L792.3,199.8 L795.8,200.3 L799.2,200.9 L802.5,201.6 L805.9,202.4 L809.2,203.4 L812.4,204.4 L815.6,205.6 L818.7,206.8 L821.8,208.2 L824.8,209.7 L827.7,211.2 L830.6,212.9 L833.4,214.7 L836.2,216.6" fill="none" stroke="#a8a8a8" stroke-width="0.9" />
<path d="M623.9,531.0 L620.0,529.6 L616.2,528.1 L612.5,526.4 L608.8,524.6 L605.3,522.6 L601.8,520.4 L598.4,518.1 L595.2,515.7 L592.0,513.1 L588.9,510.3 L586.0,507.5 L583.1,504.4 L580.4,501.3 L577.8,498.0 L575.3,494.6 L572.9,491.1 L570.7,487.4 L568.6,483.6 L566.6,479.7 L564.7,475.7 L562.9,471.6 L561.3,467.4 L559.9,463.1 L558.5,458.7 L557.3,454.2 L556.3,449.6 L555.3,444.9 L554.6,440.1 L553.9,435.3 L553.4,430.4 L553.1,425.4 L552.8,420.4 L552.8,415.3 L552.8,410.2 L553.0,405.0 L553.4,399.7 L553.9,394.5 L554.5,389.2 L555.3,383.8 L556.2,378.5 L557.2,373.1 L558.4,367.7 L559.7,362.4 L561.2,357.0 L562.8,351.6 L564.5,346.2 L566.4,340.8 L568.4,335.5 L570.5,330.1 L572.7,324.8 L575.1,319.6 L577.6,314.4 L580.2,309.2 L582.9,304.0 L585.7,298.9 L588.7,293.9 L591.7,288.9 L594.9,284.0 L598.1,279.2 L601.5,274.4 L605.0,269.8 L608.5,265.2 L612.1,260.6 L615.9,256.2 L619.7,251.9 L623.6,247.7 L627.5,243.6 L631.6,239.6 L635.7,235.7 L639.9,231.9 L644.1,228.2 L648.4,224.7 L652.7,221.3 L657.1,218.0 L661.5,214.9 L666.0,211.8 L670.5,209.0 L675.1,206.2 L679.6,203.6 L684.2,201.2 L688.9,198.9 L693.5,196.7 L698.1,194.7 L702.8,192.9 L707.4,191.2 L712.1,189.7 L716.7,188.3 L721.3,187.1 L725.9,186.0 L730.5,185.2 L735.1,184.4 L739.7,183.9 L744.2,183.5 L748.6,183.2 L753.1,183.2 L757.5,183.3 L761.8,183.5 L766.1,183.9 L770.3,184.5 L774.5,185.3 L778.6,186.2 L782.6,187.3 L786.6,188.5 L790.5,189.9 L794.3,191.4 L798.0,193.2 L801.6,195.0 L805.2,197.0 L808.6,199.2 L812.0,201.5 L815.2,204.0 L818.4,206.6 L821.4,209.4 L824.4,212.3 L827.2,215.3 L829.9,218.5 L832.5,221.8 L835.0,225.2 L837.3,228.7 L839.6,232.4" fill="none" stroke="#2b2b2b" stroke-width="1.4" />
<path d="M752.2,218.1 L754.4,217.4 L756.6,216.7 L758.8,216.1 L761.0,215.5 L763.1,215.0 L765.3,214.5 L767.5,214.0 L769.6,213.6 L771.8,213.2 L774.0,212.8 L776.1,212.5 L778.3,212.2 L780.4,211.9 L782.5,211.7 L784.6,211.6 L786.8,211.4 L788.9,211.3 L791.0,211.2 L793.0,211.2 L795.1,211.2 L797.2,211.3 L799.2,211.3 L801.3,211.4 L803.3,211.6 L805.3,211.8 L807.3,212.0 L809.3,212.3 L811.3,212.6 L813.3,212.9 L815.2,213.3 L817.2,213.7 L819.1,214.1 L821.0,214.6 L822.9,215.1 L824.8,215.7 L826.6,216.3 L828.5,216.9 L830.3,217.6 L832.1,218.3 L833.9,219.0 L835.7,219.8 L837.4,220.6 L839.2,221.4 L840.9,222.3 L842.6,223.2 L844.3,224.1 L845.9,225.1 L847.5,226.1 L849.2,227.2 L850.7,228.3 L852.3,229.4 L853.9,230.5 L855.4,231.7 L856.9,232.9 L858.4,234.1 L859.8,235.4 L861.2,236.7 L862.6,238.0 L864.0,239.4 L865.4,240.8 L866.7,242.2 L868.0,243.7 L869.3,245.2 L870.5,246.7 L871.8,248.3 L873.0,249.8 L874.1,251.4 L875.3,253.1 L876.4,254.7 L877.5,256.4 L878.6,258.2 L879.6,259.9 L880.6,261.7 L881.6,263.5 L882.5,265.3 L883.5,267.1 L884.4,269.0 L885.2,270.9 L886.0,272.8 L886.9,274.8 L887.6,276.8 L888.4,278.8 L889.1,280.8 L889.8,282.8 L890.4,284.9 L891.1,287.0 L891.6,289.1 L892.2,291.2 L892.7,293.3 L893.2,295.5 L893.7,297.7 L894.2,299.9 L894.6,302.1 L894.9,304.3 L895.3,306.6 L895.6,308.8 L895.9,311.1 L896.1,313.4 L896.4,315.7 L896.5,318.1 L896.7,320.4 L896.8,322.8 L896.9,325.2 L897.0,327.5 L897.0,329.9 L897.0,332.4 L897.0,334.8 L896.9,337.2 L896.8,339.7 L896.7,342.1 L896.5,344.6 L896.3,347.0 L896.1,349.5 L895.8,352.0 L895.5,354.5 L895.2,357.0 L894.9,359.5 L894.5,362.0 L894.1,364.5 L893.6,367.1" fill="none" stroke="#a0a0a0" stroke-width="0.8" />
<path d="M696.6,244.9 L701.4,241.6 L706.3,238.4 L711.2,235.4 L716.1,232.5 L721.1,229.8 L726.1,227.3 L731.1,225.0 L736.1,222.9 L741.1,220.9 L746.2,219.2 L751.2,217.6 L756.2,216.2 L761.2,215.1 L766.2,214.1 L771.1,213.3 L776.0,212.7 L780.9,212.3 L785.7,212.1 L790.5,212.1 L795.2,212.4 L799.9,212.8 L804.5,213.4 L809.0,214.2 L813.4,215.2 L817.8,216.4 L822.0,217.8 L826.2,219.4 L830.3,221.1 L834.2,223.1 L838.1,225.2 L841.8,227.6 L845.5,230.1 L849.0,232.8 L852.3,235.7 L855.6,238.7 L858.7,241.9 L861.7,245.3 L864.5,248.8 L867.2,252.5 L869.8,256.4 L872.2,260.4 L874.4,264.5 L876.5,268.8 L878.5,273.2 L880.2,277.7 L881.9,282.4 L883.3,287.1 L884.6,292.0 L885.7,297.0 L886.7,302.1 L887.5,307.3 L888.1,312.6 L888.5,317.9 L888.8,323.4 L888.9,328.9 L888.8,334.4 L888.5,340.1 L888.1,345.7 L887.5,351.4 L886.8,357.2 L885.8,363.0 L884.7,368.8 L883.5,374.6 L882.1,380.4 L880.5,386.3 L878.7,392.1 L876.8,397.9 L874.7,403.7 L872.5,409.5 L870.1,415.2 L867.6,420.9 L864.9,426.6 L862.1,432.2 L859.1,437.8 L856.0,443.3 L852.8,448.7 L849.4,454.0 L845.9,459.3 L842.3,464.5 L838.6,469.5 L834.7,474.5 L830.8,479.4 L826.7,484.1 L822.5,488.8 L818.3,493.3 L814.0,497.6 L809.5,501.9 L805.0,506.0 L800.4,510.0 L795.8,513.8 L791.1,517.4 L786.3,521.0 L781.5,524.3 L776.6,527.5 L771.7,530.5 L766.8,533.3 L761.8,536.0 L756.8,538.5 L751.8,540.8 L746.8,542.9 L741.8,544.8 L736.7,546.6 L731.7,548.1 L726.7,549.5 L721.7,550.6 L716.7,551.6 L711.8,552.4 L706.9,552.9 L702.0,553.3 L697.2,553.5 L692.4,553.4 L687.7,553.2 L683.1,552.8 L678.5,552.2 L674.0,551.3 L669.5,550.3 L665.2,549.1 L660.9,547.7 L656.8,546.1 L652.7,544.3" fill="none" stroke="#8e8e8e" stroke-width="0.9" />
<path d="M691.4,245.2 L696.4,241.7 L701.4,238.4 L706.5,235.3 L711.6,232.4 L716.7,229.7 L721.9,227.2 L727.1,224.9 L732.3,222.8 L737.5,220.9 L742.7,219.2 L747.8,217.7 L753.0,216.4 L758.1,215.4 L763.3,214.5 L768.3,213.9 L773.4,213.5 L778.3,213.3 L783.3,213.4 L788.1,213.6 L792.9,214.1 L797.6,214.8 L802.2,215.7 L806.8,216.8 L811.2,218.2 L815.6,219.7 L819.8,221.5 L823.9,223.4 L828.0,225.6 L831.8,228.0 L835.6,230.6 L839.2,233.3 L842.7,236.3 L846.1,239.5 L849.3,242.8 L852.3,246.3 L855.2,250.0 L857.9,253.9 L860.5,257.9 L862.9,262.1 L865.2,266.4 L867.2,270.9 L869.1,275.6 L870.8,280.3 L872.4,285.2 L873.7,290.3 L874.9,295.4 L875.9,300.7 L876.7,306.0 L877.3,311.5 L877.7,317.0 L878.0,322.6 L878.0,328.3 L877.9,334.1 L877.5,339.9 L877.0,345.8 L876.3,351.7 L875.4,357.7 L874.4,363.7 L873.1,369.7 L871.7,375.7 L870.0,381.7 L868.2,387.7 L866.3,393.7 L864.1,399.7 L861.8,405.7 L859.3,411.6 L856.6,417.5 L853.8,423.3 L850.9,429.1 L847.7,434.8 L844.5,440.4 L841.0,446.0 L837.5,451.5 L833.8,456.8 L830.0,462.1 L826.0,467.2 L822.0,472.3 L817.8,477.2 L813.5,482.0 L809.1,486.6 L804.6,491.1 L800.0,495.5 L795.3,499.7 L790.6,503.7 L785.8,507.6 L780.9,511.3 L775.9,514.8 L770.9,518.2 L765.9,521.4 L760.8,524.3 L755.7,527.1 L750.5,529.7 L745.3,532.1 L740.1,534.3 L735.0,536.3 L729.8,538.1 L724.6,539.6 L719.4,541.0 L714.3,542.1 L709.1,543.1 L704.0,543.8 L699.0,544.3 L694.0,544.5 L689.0,544.6 L684.2,544.4 L679.3,544.0 L674.6,543.4 L669.9,542.6 L665.4,541.6 L660.9,540.3 L656.5,538.9 L652.2,537.2 L648.0,535.3 L644.0,533.2 L640.0,530.9 L636.2,528.4 L632.6,525.7 L629.0,522.8 L625.6,519.7 L622.3,516.5" fill="none" stroke="#9a9a9a" stroke-width="0.9" />
<path d="M701.8,237.3 L706.7,234.4 L711.7,231.6 L716.7,229.1 L721.7,226.7 L726.8,224.5 L731.8,222.5 L736.8,220.7 L741.9,219.1 L746.9,217.7 L751.9,216.5 L756.9,215.6 L761.9,214.8 L766.8,214.2 L771.7,213.8 L776.5,213.7 L781.3,213.7 L786.0,214.0 L790.6,214.5 L795.2,215.2 L799.7,216.0 L804.1,217.1 L808.4,218.4 L812.6,219.9 L816.8,221.6 L820.8,223.5 L824.7,225.6 L828.5,227.9 L832.1,230.3 L835.7,233.0 L839.1,235.8 L842.4,238.9 L845.5,242.1 L848.5,245.4 L851.4,249.0 L854.1,252.7 L856.6,256.6 L859.0,260.6 L861.2,264.7 L863.3,269.1 L865.2,273.5 L867.0,278.1 L868.5,282.8 L869.9,287.6 L871.1,292.6 L872.2,297.6 L873.1,302.8 L873.8,308.0 L874.3,313.3 L874.6,318.8 L874.8,324.3 L874.7,329.8 L874.5,335.4 L874.1,341.1 L873.6,346.8 L872.8,352.6 L871.9,358.4 L870.8,364.2 L869.6,370.0 L868.1,375.9 L866.5,381.7 L864.7,387.6 L862.8,393.4 L860.7,399.2 L858.4,405.0 L856.0,410.8 L853.4,416.5 L850.6,422.1 L847.7,427.7 L844.7,433.3 L841.5,438.7 L838.2,444.1 L834.7,449.4 L831.2,454.6 L827.5,459.8 L823.6,464.8 L819.7,469.7 L815.7,474.5 L811.5,479.1 L807.3,483.7 L802.9,488.1 L798.5,492.3 L794.0,496.4 L789.4,500.4 L784.7,504.2 L780.0,507.9 L775.2,511.3 L770.3,514.7 L765.5,517.8 L760.5,520.8 L755.6,523.5 L750.6,526.1 L745.6,528.6 L740.5,530.8 L735.5,532.8 L730.4,534.6 L725.4,536.2 L720.4,537.7 L715.4,538.9 L710.4,539.9 L705.4,540.7 L700.5,541.3 L695.6,541.7 L690.7,541.9 L686.0,541.9 L681.2,541.7 L676.6,541.2 L672.0,540.6 L667.5,539.7 L663.1,538.7 L658.7,537.4 L654.5,536.0 L650.4,534.3 L646.3,532.4 L642.4,530.4 L638.6,528.1 L634.9,525.7 L631.3,523.1 L627.9,520.2 L624.6,517.2 L621.4,514.1" fill="none" stroke="#9a9a9a" stroke-width="0.9" />
<path d="M793.7,224.1 L796.1,225.2 L798.5,226.4 L800.9,227.7 L803.2,229.0 L805.4,230.5 L807.6,232.0 L809.8,233.6 L811.9,235.2 L814.0,237.0 L816.0,238.8 L817.9,240.6 L819.8,242.6 L821.7,244.6 L823.5,246.7 L825.2,248.8 L826.9,251.0 L828.5,253.3 L830.0,255.7 L831.5,258.1 L832.9,260.5 L834.3,263.0 L835.5,265.6 L836.8,268.3 L837.9,270.9 L839.0,273.7 L840.0,276.5 L841.0,279.3 L841.9,282.2 L842.7,285.2 L843.5,288.1 L844.1,291.2 L844.8,294.2 L845.3,297.4 L845.8,300.5 L846.2,303.7 L846.5,306.9 L846.8,310.2 L847.0,313.5 L847.1,316.8 L847.1,320.1 L847.1,323.5 L847.0,326.9 L846.8,330.3 L846.6,333.8 L846.3,337.2 L845.9,340.7 L845.4,344.2 L844.9,347.7 L844.3,351.2 L843.6,354.7 L842.9,358.3 L842.1,361.8 L841.2,365.3 L840.3,368.9 L839.3,372.4 L838.2,376.0 L837.1,379.5 L835.8,383.0 L834.6,386.5 L833.2,390.0 L831.8,393.5 L830.4,397.0 L828.8,400.5 L827.2,403.9 L825.6,407.4 L823.9,410.8 L822.1,414.2 L820.3,417.5 L818.4,420.9 L816.5,424.2 L814.5,427.4 L812.4,430.7 L810.3,433.9 L808.2,437.1 L806.0,440.2 L803.7,443.3 L801.4,446.3 L799.1,449.3 L796.7,452.3 L794.3,455.2 L791.8,458.1 L789.3,460.9 L786.7,463.7 L784.1,466.4 L781.5,469.1 L778.8,471.7 L776.1,474.2 L773.4,476.7 L770.6,479.1 L767.8,481.5 L765.0,483.8 L762.1,486.1 L759.3,488.3 L756.4,490.4 L753.4,492.4 L750.5,494.4 L747.5,496.3 L744.6,498.1 L741.6,499.9 L738.6,501.6 L735.5,503.2 L732.5,504.8 L729.5,506.3 L726.4,507.7 L723.4,509.0 L720.3,510.2 L717.3,511.4 L714.2,512.5 L711.2,513.5 L708.1,514.4 L705.1,515.3 L702.0,516.0 L699.0,516.7 L696.0,517.3 L693.0,517.9 L690.0,518.3 L687.0,518.7 L684.0,518.9 L681.1,519.1 L678.2,519.2" fill="none" stroke="#2b2b2b" stroke-width="1.3" />
<path d="M678.2,519.2 C676.0,519.4 669.7,520.5 665.0,520.5 C660.3,520.5 654.7,520.3 650.0,519.5 C645.3,518.7 640.8,517.4 637.0,515.5 C633.2,513.6 629.8,511.0 627.0,508.0 C624.2,505.0 622.4,500.8 620.4,497.3 C618.4,493.8 616.1,488.6 615.2,486.9" fill="none" stroke="#2b2b2b" stroke-width="1.3" />
<path d="M780.8,216.0 L783.4,216.9 L785.9,217.8 L788.4,218.9 L790.8,220.0 L793.2,221.2 L795.5,222.5 L797.8,223.8 L800.1,225.2 L802.3,226.7 L804.4,228.3 L806.5,229.9 L808.6,231.7 L810.6,233.5 L812.5,235.3 L814.4,237.2 L816.2,239.2 L818.0,241.3 L819.7,243.4 L821.4,245.6 L823.0,247.9 L824.5,250.2 L826.0,252.6 L827.4,255.0 L828.8,257.5 L830.1,260.1 L831.3,262.7 L832.5,265.3 L833.6,268.1 L834.6,270.8 L835.5,273.6 L836.4,276.5 L837.3,279.4 L838.0,282.4 L838.7,285.4 L839.3,288.4 L839.9,291.5 L840.4,294.6 L840.8,297.8 L841.1,301.0 L841.4,304.2 L841.6,307.5 L841.7,310.8 L841.8,314.1 L841.8,317.4 L841.7,320.8 L841.6,324.2 L841.3,327.6 L841.1,331.0 L840.7,334.5 L840.3,338.0 L839.8,341.4 L839.2,344.9 L838.6,348.4 L837.8,351.9 L837.1,355.4 L836.2,359.0 L835.3,362.5 L834.3,366.0 L833.3,369.5 L832.2,373.0 L831.0,376.5 L829.7,380.0 L828.4,383.5 L827.1,387.0 L825.6,390.5 L824.1,393.9 L822.6,397.4 L821.0,400.8 L819.3,404.2 L817.6,407.6 L815.8,410.9 L813.9,414.2 L812.0,417.5 L810.1,420.8 L808.0,424.0 L806.0,427.2 L803.9,430.4 L801.7,433.5 L799.5,436.6 L797.2,439.7 L794.9,442.7 L792.6,445.7 L790.2,448.6 L787.7,451.5 L785.2,454.3 L782.7,457.1 L780.2,459.8 L777.6,462.5 L774.9,465.1 L772.3,467.6 L769.6,470.2 L766.8,472.6 L764.1,475.0 L761.3,477.3 L758.5,479.6 L755.6,481.8 L752.8,483.9 L749.9,486.0 L747.0,488.0 L744.0,490.0 L741.1,491.8 L738.1,493.6 L735.1,495.4 L732.1,497.0 L729.1,498.6 L726.1,500.1 L723.1,501.6 L720.1,502.9 L717.1,504.2 L714.0,505.4 L711.0,506.6 L707.9,507.6 L704.9,508.6 L701.9,509.5 L698.9,510.3 L695.8,511.1 L692.8,511.7 L689.8,512.3 L686.8,512.8 L683.9,513.2" fill="none" stroke="#2b2b2b" stroke-width="1.2" />
<path d="M851.3,225.8 L854.5,227.9 L857.6,230.2 L860.6,232.5 L863.5,235.0 L866.3,237.6 L869.1,240.4 L871.7,243.2 L874.2,246.2 L876.6,249.3 L879.0,252.5 L881.2,255.8 L883.3,259.2 L885.3,262.7 L887.2,266.4 L888.9,270.1 L890.6,273.9 L892.2,277.8 L893.6,281.8 L894.9,285.9 L896.1,290.1 L897.2,294.3 L898.1,298.6 L898.9,303.0 L899.6,307.5 L900.2,312.0 L900.7,316.6 L901.0,321.3 L901.2,326.0 L901.3,330.7 L901.3,335.5 L901.1,340.3 L900.9,345.2 L900.5,350.1 L899.9,355.1 L899.3,360.0 L898.5,365.0 L897.6,370.0 L896.6,375.1 L895.5,380.1 L894.2,385.1 L892.8,390.2 L891.3,395.2 L889.7,400.2 L888.0,405.3 L886.2,410.3 L884.2,415.3 L882.2,420.2 L880.0,425.2 L877.7,430.1 L875.3,434.9 L872.9,439.8 L870.3,444.6 L867.6,449.3 L864.8,454.0 L861.9,458.6 L859.0,463.2 L855.9,467.7 L852.8,472.2 L849.6,476.6 L846.2,480.9 L842.9,485.1 L839.4,489.3 L835.9,493.3 L832.3,497.3 L828.6,501.2 L824.8,505.0 L821.0,508.7 L817.2,512.3 L813.3,515.8 L809.3,519.2 L805.3,522.5 L801.2,525.7 L797.1,528.8 L793.0,531.7 L788.8,534.6 L784.6,537.3 L780.3,539.9 L776.1,542.3 L771.8,544.7 L767.5,546.9 L763.1,549.0 L758.8,550.9 L754.5,552.7 L750.1,554.4 L745.8,556.0 L741.4,557.4 L737.1,558.6 L732.8,559.8 L728.5,560.7 L724.2,561.6 L719.9,562.3 L715.6,562.9 L711.4,563.3 L707.2,563.6 L703.0,563.7 L698.9,563.7 L694.8,563.5 L690.8,563.2 L686.8,562.8 L682.9,562.2 L679.0,561.5 L675.2,560.6 L671.4,559.6 L667.7,558.4 L664.0,557.1 L660.5,555.7 L657.0,554.1 L653.6,552.4 L650.2,550.6 L646.9,548.6 L643.8,546.5 L640.7,544.3 L637.7,541.9 L634.8,539.4 L631.9,536.8 L629.2,534.1 L626.6,531.2 L624.0,528.2 L621.6,525.1 L619.3,521.9 L617.1,518.6 L615.0,515.2 L613.0,511.7 L611.1,508.1 L609.3,504.3 L607.7,500.5 L606.1,496.6 L604.7,492.6 L603.4,488.5 L602.2,484.4 L601.1,480.1 L600.2,475.8 L599.3,471.4 L598.6,466.9 L598.0,462.4 L597.6,457.8 L597.2,453.2 L597.0,448.5 L596.9,443.7 L597.0,438.9 L597.1,434.1 L597.4,429.2 L597.8,424.3 L598.3,419.3 L599.0,414.4 L599.8,409.4 L600.7,404.4 L601.7,399.4 L602.8,394.3 L604.1,389.3 L605.4,384.2 L606.9,379.2 L608.5,374.2 L610.3,369.2 L612.1,364.1 L614.0,359.2 L616.1,354.2 L618.3,349.3 L620.5,344.4 L622.9,339.5 L625.4,334.6 L628.0,329.9 L630.7,325.1 L633.4,320.4 L636.3,315.8 L639.3,311.2 L642.3,306.7 L645.5,302.2 L648.7,297.9 L652.0,293.5 L655.4,289.3 L658.9,285.2 L662.4,281.1 L666.0,277.1 L669.7,273.2 L673.4,269.4 L677.2,265.7 L681.1,262.1 L685.0,258.6 L689.0,255.2 L693.0,251.9 L697.0,248.7 L701.1,245.7 L705.3,242.7 L709.5,239.9 L713.7,237.2 L717.9,234.6 L722.2,232.1 L726.5,229.8 L730.8,227.5 L735.1,225.5 L739.4,223.5 L743.8,221.7 L748.1,220.0 L752.5,218.5 L756.8,217.1 L761.2,215.8 L765.5,214.7 L769.8,213.7 L774.1,212.8 L778.4,212.1 L782.6,211.6 L786.9,211.1 L791.1,210.9 L795.2,210.7 L799.3,210.7 L803.4,210.9 L807.5,211.2 L811.5,211.6 L815.4,212.2 L819.3,213.0 L823.1,213.8 L826.9,214.8 L830.6,216.0 L834.2,217.3 L837.8,218.7 L841.3,220.3 L844.7,222.0 L848.1,223.8 L851.3,225.8" fill="none" stroke="#2b2b2b" stroke-width="1.4" />
<path d="M612.7,496.3 L611.8,493.2 L610.9,490.0 L610.0,486.8 L609.3,483.6 L608.6,480.4 L607.9,477.0 L607.4,473.7 L606.9,470.3 L606.5,466.9 L606.1,463.4 L605.8,459.9 L605.6,456.4 L605.5,452.8 L605.4,449.3 L605.4,445.7 L605.5,442.0 L605.6,438.4 L605.9,434.7 L606.1,431.0 L606.5,427.3 L606.9,423.5 L607.4,419.8 L608.0,416.0 L608.6,412.3 L609.3,408.5 L610.1,404.7 L610.9,400.9 L611.8,397.1 L612.8,393.3 L613.9,389.5 L615.0,385.7 L616.1,381.9 L617.4,378.1 L618.7,374.4 L620.1,370.6 L621.5,366.8 L623.0,363.1 L624.6,359.3 L626.2,355.6 L627.9,351.9 L629.6,348.2 L631.4,344.5 L633.3,340.9 L635.2,337.3 L637.2,333.7 L639.2,330.1 L641.3,326.6 L643.4,323.0 L645.6,319.6 L647.8,316.1 L650.1,312.7 L652.5,309.3 L654.9,306.0 L657.3,302.7 L659.8,299.5 L662.3,296.2 L664.9,293.1 L667.5,290.0 L670.2,286.9 L672.9,283.9 L675.6,280.9 L678.4,278.0 L681.2,275.1 L684.1,272.3 L687.0,269.5 L689.9,266.8 L692.8,264.2 L695.8,261.6 L698.8,259.1 L701.9,256.6 L704.9,254.2 L708.0,251.9 L711.1,249.6 L714.2,247.4 L717.4,245.3 L720.6,243.2 L723.7,241.2 L726.9,239.3 L730.2,237.4 L733.4,235.6 L736.6,233.9 L739.9,232.2 L743.1,230.7 L746.4,229.2 L749.7,227.8 L752.9,226.4 L756.2,225.2 L759.5,224.0 L762.8,222.9 L766.0,221.8 L769.3,220.9 L772.6,220.0 L775.8,219.2 L779.1,218.5 L782.3,217.9 L785.6,217.3 L788.8,216.9 L792.0,216.5 L795.2,216.2 L798.3,215.9 L801.5,215.8 L804.6,215.7 L807.7,215.7 L810.8,215.8 L813.8,216.0 L816.9,216.3 L819.9,216.6 L822.8,217.1 L825.8,217.6 L828.7,218.2 L831.6,218.8 L834.4,219.6 L837.2,220.4 L840.0,221.3 L842.8,222.3 L845.4,223.4 L848.1,224.5 L850.7,225.7 L853.3,227.0 L855.8,228.4" fill="none" stroke="#2b2b2b" stroke-width="1.3" />
<path d="M615.2,486.9 L614.6,483.9 L614.0,480.8 L613.4,477.6 L613.0,474.4 L612.6,471.2 L612.2,468.0 L611.9,464.7 L611.7,461.4 L611.6,458.1 L611.5,454.8 L611.4,451.4 L611.4,448.0 L611.5,444.6 L611.7,441.1 L611.9,437.7 L612.2,434.2 L612.5,430.7 L612.9,427.2 L613.4,423.7 L613.9,420.2 L614.5,416.6 L615.1,413.1 L615.8,409.5 L616.6,406.0 L617.4,402.4 L618.3,398.8 L619.2,395.3 L620.2,391.7 L621.3,388.1 L622.4,384.6 L623.6,381.0 L624.8,377.4 L626.1,373.9 L627.5,370.4 L628.9,366.8 L630.3,363.3 L631.9,359.8 L633.4,356.3 L635.0,352.9 L636.7,349.4 L638.4,346.0 L640.2,342.6 L642.0,339.2 L643.9,335.8 L645.8,332.5 L647.8,329.2 L649.8,325.9 L651.9,322.6 L654.0,319.4 L656.2,316.2 L658.4,313.0 L660.6,309.9 L662.9,306.8 L665.2,303.7 L667.6,300.7 L670.0,297.7 L672.4,294.7 L674.9,291.8 L677.4,289.0 L680.0,286.2 L682.6,283.4 L685.2,280.6 L687.9,278.0 L690.5,275.3 L693.3,272.7 L696.0,270.2 L698.8,267.7 L701.6,265.3 L704.4,262.9 L707.2,260.6 L710.1,258.3 L713.0,256.1 L715.9,254.0 L718.8,251.9 L721.8,249.8 L724.8,247.9 L727.7,245.9 L730.7,244.1 L733.8,242.3 L736.8,240.6 L739.8,238.9 L742.9,237.3 L745.9,235.7 L749.0,234.3 L752.0,232.9 L755.1,231.5 L758.2,230.2 L761.3,229.0 L764.3,227.9 L767.4,226.8 L770.5,225.8 L773.6,224.9 L776.6,224.0 L779.7,223.2 L782.7,222.5 L785.8,221.9 L788.8,221.3 L791.9,220.8 L794.9,220.3 L797.9,220.0 L800.9,219.7 L803.8,219.5 L806.8,219.3 L809.7,219.2 L812.7,219.2 L815.6,219.3 L818.5,219.4 L821.3,219.6 L824.2,219.9 L827.0,220.3 L829.7,220.7 L832.5,221.2 L835.2,221.8 L837.9,222.4 L840.6,223.1 L843.2,223.9 L845.9,224.8 L848.4,225.7 L851.0,226.7 L853.5,227.7" fill="none" stroke="#2b2b2b" stroke-width="1.2" />
<ellipse cx="595.1" cy="484.8" rx="7" ry="5.2" transform="rotate(-106.4 595.1 484.8)" fill="none" stroke="#8a8a8a" stroke-width="0.9" />
<ellipse cx="595.6" cy="485.1" rx="4.4" ry="3.3" transform="rotate(-106.4 595.6 485.1)" fill="none" stroke="#666" stroke-width="0.8" />
<ellipse cx="595.9" cy="485.3" rx="2.0" ry="1.7" transform="rotate(-106.4 595.9 485.3)" fill="#444" stroke="#222" stroke-width="1.2" />
<ellipse cx="595.4" cy="459.1" rx="7" ry="5.2" transform="rotate(-97.4 595.4 459.1)" fill="none" stroke="#8a8a8a" stroke-width="0.9" />
<ellipse cx="596.2" cy="459.5" rx="4.6" ry="3.4" transform="rotate(-97.4 596.2 459.5)" fill="none" stroke="#777" stroke-width="0.9" />
<ellipse cx="588.9" cy="436.8" rx="7" ry="5.2" transform="rotate(-89.2 588.9 436.8)" fill="none" stroke="#8a8a8a" stroke-width="0.9" />
<ellipse cx="589.4" cy="437.1" rx="4.4" ry="3.3" transform="rotate(-89.2 589.4 437.1)" fill="none" stroke="#666" stroke-width="0.8" />
<ellipse cx="589.7" cy="437.3" rx="2.0" ry="1.7" transform="rotate(-89.2 589.7 437.3)" fill="#444" stroke="#222" stroke-width="1.2" />
<ellipse cx="596.1" cy="409.8" rx="7" ry="5.2" transform="rotate(-81.8 596.1 409.8)" fill="none" stroke="#8a8a8a" stroke-width="0.9" />
<ellipse cx="596.9" cy="410.2" rx="4.6" ry="3.4" transform="rotate(-81.8 596.9 410.2)" fill="none" stroke="#777" stroke-width="0.9" />
<ellipse cx="596.5" cy="384.1" rx="7" ry="5.2" transform="rotate(-75.0 596.5 384.1)" fill="none" stroke="#8a8a8a" stroke-width="0.9" />
<ellipse cx="597.0" cy="384.4" rx="4.4" ry="3.3" transform="rotate(-75.0 597.0 384.4)" fill="none" stroke="#666" stroke-width="0.8" />
<ellipse cx="597.3" cy="384.6" rx="2.0" ry="1.7" transform="rotate(-75.0 597.3 384.6)" fill="#444" stroke="#222" stroke-width="1.2" />
<ellipse cx="609.9" cy="358.2" rx="7" ry="5.2" transform="rotate(-68.6 609.9 358.2)" fill="none" stroke="#8a8a8a" stroke-width="0.9" />
<ellipse cx="610.7" cy="358.6" rx="4.6" ry="3.4" transform="rotate(-68.6 610.7 358.6)" fill="none" stroke="#777" stroke-width="0.9" />
<ellipse cx="617.2" cy="331.2" rx="7" ry="5.2" transform="rotate(-62.5 617.2 331.2)" fill="none" stroke="#8a8a8a" stroke-width="0.9" />
<ellipse cx="617.7" cy="331.5" rx="4.4" ry="3.3" transform="rotate(-62.5 617.7 331.5)" fill="none" stroke="#666" stroke-width="0.8" />
<ellipse cx="618.0" cy="331.7" rx="2.0" ry="1.7" transform="rotate(-62.5 618.0 331.7)" fill="#444" stroke="#222" stroke-width="1.2" />
<ellipse cx="635.6" cy="308.8" rx="7" ry="5.2" transform="rotate(-56.5 635.6 308.8)" fill="none" stroke="#8a8a8a" stroke-width="0.9" />
<ellipse cx="636.4" cy="309.2" rx="4.6" ry="3.4" transform="rotate(-56.5 636.4 309.2)" fill="none" stroke="#777" stroke-width="0.9" />
<ellipse cx="649.1" cy="283.0" rx="7" ry="5.2" transform="rotate(-50.4 649.1 283.0)" fill="none" stroke="#8a8a8a" stroke-width="0.9" />
<ellipse cx="649.6" cy="283.3" rx="4.4" ry="3.3" transform="rotate(-50.4 649.6 283.3)" fill="none" stroke="#666" stroke-width="0.8" />
<ellipse cx="649.9" cy="283.5" rx="2.0" ry="1.7" transform="rotate(-50.4 649.9 283.5)" fill="#444" stroke="#222" stroke-width="1.2" />
<ellipse cx="670.9" cy="266.1" rx="7" ry="5.2" transform="rotate(-44.2 670.9 266.1)" fill="none" stroke="#8a8a8a" stroke-width="0.9" />
<ellipse cx="671.7" cy="266.5" rx="4.6" ry="3.4" transform="rotate(-44.2 671.7 266.5)" fill="none" stroke="#777" stroke-width="0.9" />
<ellipse cx="689.4" cy="243.8" rx="7" ry="5.2" transform="rotate(-37.7 689.4 243.8)" fill="none" stroke="#8a8a8a" stroke-width="0.9" />
<ellipse cx="689.9" cy="244.1" rx="4.4" ry="3.3" transform="rotate(-37.7 689.9 244.1)" fill="none" stroke="#666" stroke-width="0.8" />
<ellipse cx="690.2" cy="244.3" rx="2.0" ry="1.7" transform="rotate(-37.7 690.2 244.3)" fill="#444" stroke="#222" stroke-width="1.2" />
<ellipse cx="712.7" cy="233.9" rx="7" ry="5.2" transform="rotate(-30.7 712.7 233.9)" fill="none" stroke="#8a8a8a" stroke-width="0.9" />
<ellipse cx="713.5" cy="234.3" rx="4.6" ry="3.4" transform="rotate(-30.7 713.5 234.3)" fill="none" stroke="#777" stroke-width="0.9" />
<ellipse cx="734.5" cy="217.1" rx="7" ry="5.2" transform="rotate(-23.0 734.5 217.1)" fill="none" stroke="#8a8a8a" stroke-width="0.9" />
<ellipse cx="735.0" cy="217.4" rx="4.4" ry="3.3" transform="rotate(-23.0 735.0 217.4)" fill="none" stroke="#666" stroke-width="0.8" />
<ellipse cx="735.3" cy="217.6" rx="2.0" ry="1.7" transform="rotate(-23.0 735.3 217.6)" fill="#444" stroke="#222" stroke-width="1.2" />
<ellipse cx="757.1" cy="215.1" rx="7" ry="5.2" transform="rotate(-14.5 757.1 215.1)" fill="none" stroke="#8a8a8a" stroke-width="0.9" />
<ellipse cx="757.9" cy="215.5" rx="4.6" ry="3.4" transform="rotate(-14.5 757.9 215.5)" fill="none" stroke="#777" stroke-width="0.9" />
<ellipse cx="780.4" cy="205.2" rx="7" ry="5.2" transform="rotate(-5.0 780.4 205.2)" fill="none" stroke="#8a8a8a" stroke-width="0.9" />
<ellipse cx="780.9" cy="205.5" rx="4.4" ry="3.3" transform="rotate(-5.0 780.9 205.5)" fill="none" stroke="#666" stroke-width="0.8" />
<ellipse cx="781.2" cy="205.7" rx="2.0" ry="1.7" transform="rotate(-5.0 781.2 205.7)" fill="#444" stroke="#222" stroke-width="1.2" />
<ellipse cx="622.7" cy="507.4" rx="6.5" ry="4.3" transform="rotate(-139.1 622.7 507.4)" fill="none" stroke="#777" stroke-width="1.0" />
<ellipse cx="623.2" cy="507.7" rx="2.2" ry="1.6" transform="rotate(-139.1 623.2 507.7)" fill="none" stroke="#333" stroke-width="1.0" />
<ellipse cx="642.0" cy="512.3" rx="6.5" ry="4.3" transform="rotate(-152.4 642.0 512.3)" fill="none" stroke="#777" stroke-width="1.0" />
<ellipse cx="656.6" cy="525.1" rx="6.5" ry="4.3" transform="rotate(-165.4 656.6 525.1)" fill="none" stroke="#777" stroke-width="1.0" />
<ellipse cx="657.1" cy="525.4" rx="2.2" ry="1.6" transform="rotate(-165.4 657.1 525.4)" fill="none" stroke="#333" stroke-width="1.0" />
<ellipse cx="678.3" cy="521.8" rx="6.5" ry="4.3" transform="rotate(-177.6 678.3 521.8)" fill="none" stroke="#777" stroke-width="1.0" />
<ellipse cx="697.5" cy="526.9" rx="6.5" ry="4.3" transform="rotate(171.4 697.5 526.9)" fill="none" stroke="#777" stroke-width="1.0" />
<ellipse cx="698.0" cy="527.2" rx="2.2" ry="1.6" transform="rotate(171.4 698.0 527.2)" fill="none" stroke="#333" stroke-width="1.0" />
<ellipse cx="719.4" cy="515.6" rx="6.5" ry="4.3" transform="rotate(161.6 719.4 515.6)" fill="none" stroke="#777" stroke-width="1.0" />
<ellipse cx="741.1" cy="512.4" rx="6.5" ry="4.3" transform="rotate(152.9 741.1 512.4)" fill="none" stroke="#777" stroke-width="1.0" />
<ellipse cx="741.6" cy="512.7" rx="2.2" ry="1.6" transform="rotate(152.9 741.6 512.7)" fill="none" stroke="#333" stroke-width="1.0" />
<ellipse cx="760.8" cy="494.4" rx="6.5" ry="4.3" transform="rotate(145.0 760.8 494.4)" fill="none" stroke="#777" stroke-width="1.0" />
<ellipse cx="782.7" cy="483.3" rx="6.5" ry="4.3" transform="rotate(137.8 782.7 483.3)" fill="none" stroke="#777" stroke-width="1.0" />
<ellipse cx="783.2" cy="483.6" rx="2.2" ry="1.6" transform="rotate(137.8 783.2 483.6)" fill="none" stroke="#333" stroke-width="1.0" />
<ellipse cx="798.4" cy="460.4" rx="6.5" ry="4.3" transform="rotate(131.0 798.4 460.4)" fill="none" stroke="#777" stroke-width="1.0" />
<ellipse cx="818.2" cy="442.5" rx="6.5" ry="4.3" transform="rotate(124.4 818.2 442.5)" fill="none" stroke="#777" stroke-width="1.0" />
<ellipse cx="818.7" cy="442.8" rx="2.2" ry="1.6" transform="rotate(124.4 818.7 442.8)" fill="none" stroke="#333" stroke-width="1.0" />
<ellipse cx="828.0" cy="417.2" rx="6.5" ry="4.3" transform="rotate(117.9 828.0 417.2)" fill="none" stroke="#777" stroke-width="1.0" />
<ellipse cx="843.7" cy="394.3" rx="6.5" ry="4.3" transform="rotate(111.3 843.7 394.3)" fill="none" stroke="#777" stroke-width="1.0" />
<ellipse cx="844.2" cy="394.6" rx="2.2" ry="1.6" transform="rotate(111.3 844.2 394.6)" fill="none" stroke="#333" stroke-width="1.0" />
<ellipse cx="846.7" cy="369.2" rx="6.5" ry="4.3" transform="rotate(104.4 846.7 369.2)" fill="none" stroke="#777" stroke-width="1.0" />
<ellipse cx="856.7" cy="343.8" rx="6.5" ry="4.3" transform="rotate(96.9 856.7 343.8)" fill="none" stroke="#777" stroke-width="1.0" />
<ellipse cx="857.2" cy="344.1" rx="2.2" ry="1.6" transform="rotate(96.9 857.2 344.1)" fill="none" stroke="#333" stroke-width="1.0" />
<ellipse cx="852.5" cy="321.5" rx="6.5" ry="4.3" transform="rotate(88.8 852.5 321.5)" fill="none" stroke="#777" stroke-width="1.0" />
<ellipse cx="855.6" cy="296.3" rx="6.5" ry="4.3" transform="rotate(79.7 855.6 296.3)" fill="none" stroke="#777" stroke-width="1.0" />
<ellipse cx="856.1" cy="296.6" rx="2.2" ry="1.6" transform="rotate(79.7 856.1 296.6)" fill="none" stroke="#333" stroke-width="1.0" />
<ellipse cx="844.8" cy="279.0" rx="6.5" ry="4.3" transform="rotate(69.5 844.8 279.0)" fill="none" stroke="#777" stroke-width="1.0" />
<ellipse cx="840.8" cy="256.6" rx="6.5" ry="4.3" transform="rotate(58.0 840.8 256.6)" fill="none" stroke="#777" stroke-width="1.0" />
<ellipse cx="841.3" cy="256.9" rx="2.2" ry="1.6" transform="rotate(58.0 841.3 256.9)" fill="none" stroke="#333" stroke-width="1.0" />
<ellipse cx="824.4" cy="246.3" rx="6.5" ry="4.3" transform="rotate(45.5 824.4 246.3)" fill="none" stroke="#777" stroke-width="1.0" />
<ellipse cx="813.7" cy="228.9" rx="6.5" ry="4.3" transform="rotate(32.3 813.7 228.9)" fill="none" stroke="#777" stroke-width="1.0" />
<ellipse cx="814.2" cy="229.2" rx="2.2" ry="1.6" transform="rotate(32.3 814.2 229.2)" fill="none" stroke="#333" stroke-width="1.0" />
<path d="M641.8,141.8 C646.2,139.2 659.1,130.6 668.3,126.1 C677.4,121.6 687.2,118.0 696.7,114.7 C706.2,111.4 715.6,108.6 725.0,106.2 C734.4,103.8 743.9,101.9 753.3,100.6 C762.7,99.3 773.8,98.7 781.6,98.5 C789.4,98.3 791.8,98.1 800.0,99.5 C808.2,100.9 820.5,103.6 830.7,106.9 C841.0,110.2 851.2,114.3 861.5,119.2 C871.8,124.1 883.2,129.9 892.2,136.1 C901.2,142.2 907.6,148.4 915.3,156.1 C923.0,163.8 931.1,173.4 938.3,182.2 C945.5,191.0 955.0,204.6 958.3,209.1 L950.7,216.6 L940.7,227.6 L882.9,239 C880.8,236.9 873.8,230.1 870.0,226.5 C866.2,222.9 864.1,220.8 860.0,217.5 C855.9,214.2 852.8,210.3 845.6,207.0 C838.4,203.7 825.4,199.7 817.0,197.6 C808.6,195.5 802.8,195.1 795.0,194.5 C787.2,193.9 777.0,193.6 770.0,194.3 C763.0,195.0 760.5,196.5 753.0,198.5 C745.5,200.5 733.2,203.8 725.0,206.5 C716.8,209.2 707.2,213.4 703.6,214.8 L710.3,192.3 L713.1,174.4 C712.2,172.7 710.5,168.1 708.0,164.3 C705.5,160.6 701.9,155.7 698.0,151.9 C694.1,148.2 689.2,144.3 684.5,141.8 C679.8,139.3 675.1,137.6 669.9,136.8 C664.6,136.1 657.7,136.5 653.0,137.3 C648.3,138.1 643.7,141.1 641.8,141.8 Z" fill="#bcbabb" stroke="#333" stroke-width="1.3" />
<path d="M650.3,206.4 C647.0,198.4 633.3,168.3 630.6,158.7 C627.9,149.1 632.1,151.4 634.0,148.6 C635.9,145.8 638.6,143.7 641.8,141.8 C645.0,139.9 648.3,138.1 653.0,137.3 C657.7,136.5 664.6,136.1 669.9,136.8 C675.1,137.6 679.8,139.3 684.5,141.8 C689.2,144.3 694.1,148.2 698.0,151.9 C701.9,155.7 705.5,160.6 708.0,164.3 C710.5,168.1 712.2,172.7 713.1,174.4 L710.3,192.3 L703.6,214.8 L699.6,214.8 L709.2,181.1 C709.1,179.6 709.9,175.8 708.6,172.1 C707.3,168.4 704.9,163.0 701.3,158.7 C697.6,154.4 691.9,149.3 686.7,146.3 C681.5,143.3 675.5,141.5 669.9,140.7 C664.3,139.9 658.0,140.2 653.0,141.3 C648.0,142.4 642.7,144.3 639.6,147.4 C636.5,150.5 635.4,157.7 634.5,159.8 L653.6,206.4 Z" fill="#9c9a9b" stroke="#333" stroke-width="1.2" />
<path d="M634.5,159.8 C635.4,157.7 636.5,150.5 639.6,147.4 C642.7,144.3 648.0,142.4 653.0,141.3 C658.0,140.2 664.3,139.9 669.9,140.7 C675.5,141.5 681.5,143.3 686.7,146.3 C691.9,149.3 697.6,154.4 701.3,158.7 C704.9,163.0 707.3,168.4 708.6,172.1 C709.9,175.8 709.1,179.6 709.2,181.1 L708,182.2 L653.6,206.4 Z" fill="#908e8f" stroke="#333" stroke-width="1.1" />
<path d="M713.1,174.4 C717.6,172.7 731.1,166.9 740.0,164.0 C748.9,161.1 756.7,158.7 766.7,156.7 C776.7,154.7 786.8,152.3 800.0,152.2 C813.2,152.1 832.0,153.1 846.1,156.1 C860.2,159.1 873.0,163.5 884.5,169.9 C896.0,176.3 908.1,187.8 915.3,194.5 C922.5,201.2 923.7,204.4 927.6,209.9 C931.5,215.4 936.9,224.7 938.8,227.6" fill="none" stroke="#555" stroke-width="0.9" />
<line x1="636.2" y1="158.7" x2="664.3" y2="145.8" stroke="#6a6a6a" stroke-width="1.0" />
<circle cx="941.5" cy="216.6" r="1.2" fill="#222"/>
<path d="M681.8,343.6 C682.5,341.2 686.0,336.7 687.5,335.2 C689.0,333.7 689.0,333.8 690.8,334.6 C692.7,335.4 696.8,338.8 698.7,340.2 C700.6,341.6 700.9,342.6 702.1,343.0 C703.2,343.4 703.6,343.9 705.4,342.5 C707.3,341.1 710.3,336.2 713.3,334.6 C716.3,333.0 720.2,334.2 723.4,332.9 C726.6,331.6 730.3,327.8 732.4,326.7 C734.4,325.7 734.2,326.0 735.7,326.7 C737.2,327.5 740.3,329.7 741.4,331.2 C742.4,332.7 742.5,333.5 741.9,335.7 C741.4,338.0 738.8,342.1 738.0,344.7 C737.1,347.3 736.7,349.0 736.9,351.4 C737.0,353.9 739.9,354.8 739.1,359.3 C738.4,363.8 735.0,373.0 732.4,378.4 C729.8,383.8 725.8,388.5 723.4,391.9 C721.0,395.2 719.6,396.9 717.8,398.6 C715.9,400.3 715.3,400.8 712.2,402.0 C709.0,403.1 701.9,405.3 698.7,405.3 C695.5,405.3 694.9,402.5 693.1,402.0 C691.2,401.4 689.7,400.8 687.5,402.0 C685.2,403.1 681.8,407.8 679.6,408.7 C677.4,409.6 675.5,409.3 674.0,407.6 C672.5,405.9 670.2,401.2 670.6,398.6 C671.0,396.0 674.9,394.5 676.2,391.9 C677.5,389.2 677.7,386.4 678.5,382.9 C679.2,379.3 680.0,374.8 680.7,370.5 C681.5,366.2 682.5,360.6 683.0,357.1 C683.4,353.5 683.7,351.4 683.5,349.2 C683.3,346.9 681.2,345.9 681.8,343.6 Z" fill="#fff" stroke="#2b2b2b" stroke-width="1.3" />
<path d="M687.5,398.6 C687.3,396.0 685.8,389.4 686.3,382.9 C686.9,376.3 687.8,366.0 690.8,359.3 C693.8,352.6 699.2,345.8 704.3,342.5 C709.4,339.1 715.7,337.2 721.1,339.1 C726.6,341.0 734.2,351.3 736.9,353.7" fill="none" stroke="#777" stroke-width="0.9" />
<ellipse cx="686.3" cy="363.8" rx="1.2" ry="2" transform="rotate(20 686.3 363.8)" fill="none" stroke="#555" stroke-width="0.8" />
<ellipse cx="683.5" cy="373.9" rx="1.2" ry="2" transform="rotate(20 683.5 373.9)" fill="none" stroke="#555" stroke-width="0.8" />
<ellipse cx="681.3" cy="384.0" rx="1.2" ry="2" transform="rotate(20 681.3 384.0)" fill="none" stroke="#555" stroke-width="0.8" />
<ellipse cx="691.4" cy="345.3" rx="1.8" ry="2.4" transform="rotate(20 691.4 345.3)" fill="none" stroke="#2b2b2b" stroke-width="1.0" />
<ellipse cx="737.4" cy="334.0" rx="1.8" ry="2.4" transform="rotate(20 737.4 334.0)" fill="none" stroke="#2b2b2b" stroke-width="1.0" />
<ellipse cx="679.6" cy="403.7" rx="1.8" ry="2.4" transform="rotate(20 679.6 403.7)" fill="none" stroke="#2b2b2b" stroke-width="1.0" />
<path d="M726.2,354.2 C723.9,354.1 716.2,351.9 712.2,353.1 C708.1,354.3 704.3,357.9 702.1,361.5 C699.8,365.2 698.7,370.2 698.7,375.0 C698.7,379.9 700.7,387.7 702.1,390.7 C703.5,393.8 706.3,393.1 707.1,393.5 L758,421.5 L775,440 L800,420 L771,381.3 Z" fill="#fff" stroke="none" stroke-width="0" />
<path d="M725.6,354.8 L771,381.3 M706.5,393 L758,421.5" fill="none" stroke="#2b2b2b" stroke-width="1.4" />
<path d="M726.2,354.2 C723.9,354.1 716.2,351.9 712.2,353.1 C708.1,354.3 704.3,357.9 702.1,361.5 C699.8,365.2 698.7,370.2 698.7,375.0 C698.7,379.9 700.7,387.7 702.1,390.7 C703.5,393.8 706.3,393.1 707.1,393.5" fill="none" stroke="#666" stroke-width="1.0" />
<path d="M790.4,371.4 L792.6,369.3 L802.1,369.8 L804.3,372.4 L802.1,378.8 L803.2,382.0 L806.4,375.6 L811.7,373.0 L817.0,377.8 L817.6,384.1 L814.9,387.9 L820.7,395.3 L821.3,407.6 L818.1,424.6 L811.7,437.3 L801.1,445.9 L790.4,449.0 L776.6,449.0 L775.5,452.2 L764.9,450.1 L762.8,446.9 L766.0,441.6 L761.7,439.5 L756.4,439.5 L752.7,435.2 L753.2,431.0 L759.6,427.8 L758.5,420.3 L754.3,416.1 L755.3,407.6 L761.7,406.5 L771.3,391.6 L768.1,387.3 L771.3,381.0 L776.6,378.8 L781.9,382.0 L783.0,386.3 L788.3,385.2 Z" fill="#fff" stroke="#2b2b2b" stroke-width="1.3" />
<ellipse cx="794.7" cy="415" rx="26.3" ry="31.9" transform="rotate(28 794.7 415)" fill="none" stroke="#666" stroke-width="1.0" />
<ellipse cx="796" cy="416.5" rx="23" ry="28.5" transform="rotate(28 796 416.5)" fill="none" stroke="#888" stroke-width="0.8" />
<ellipse cx="784.2" cy="401.7" rx="2.6" ry="3.4" transform="rotate(28 784.2 401.7)" fill="none" stroke="#2b2b2b" stroke-width="0.9" />
<ellipse cx="794.9" cy="394.9" rx="2.6" ry="3.4" transform="rotate(28 794.9 394.9)" fill="none" stroke="#2b2b2b" stroke-width="0.9" />
<ellipse cx="805.8" cy="395.4" rx="2.6" ry="3.4" transform="rotate(28 805.8 395.4)" fill="none" stroke="#2b2b2b" stroke-width="0.9" />
<ellipse cx="813.5" cy="402.8" rx="2.6" ry="3.4" transform="rotate(28 813.5 402.8)" fill="none" stroke="#2b2b2b" stroke-width="0.9" />
<ellipse cx="815.4" cy="414.8" rx="2.6" ry="3.4" transform="rotate(28 815.4 414.8)" fill="none" stroke="#2b2b2b" stroke-width="0.9" />
<ellipse cx="811.0" cy="427.6" rx="2.6" ry="3.4" transform="rotate(28 811.0 427.6)" fill="none" stroke="#2b2b2b" stroke-width="0.9" />
<ellipse cx="801.6" cy="437.0" rx="2.6" ry="3.4" transform="rotate(28 801.6 437.0)" fill="none" stroke="#2b2b2b" stroke-width="0.9" />
<ellipse cx="790.4" cy="440.0" rx="2.6" ry="3.4" transform="rotate(28 790.4 440.0)" fill="none" stroke="#2b2b2b" stroke-width="0.9" />
<ellipse cx="780.8" cy="435.6" rx="2.6" ry="3.4" transform="rotate(28 780.8 435.6)" fill="none" stroke="#2b2b2b" stroke-width="0.9" />
<ellipse cx="776.1" cy="425.2" rx="2.6" ry="3.4" transform="rotate(28 776.1 425.2)" fill="none" stroke="#2b2b2b" stroke-width="0.9" />
<ellipse cx="797.3" cy="375.6" rx="1.8" ry="2.4" transform="rotate(20 797.3 375.6)" fill="none" stroke="#2b2b2b" stroke-width="0.9" />
<ellipse cx="812.8" cy="382.0" rx="1.8" ry="2.4" transform="rotate(20 812.8 382.0)" fill="none" stroke="#2b2b2b" stroke-width="0.9" />
<ellipse cx="777.1" cy="387.9" rx="1.8" ry="2.4" transform="rotate(20 777.1 387.9)" fill="none" stroke="#2b2b2b" stroke-width="0.9" />
<ellipse cx="761.7" cy="412.9" rx="1.8" ry="2.4" transform="rotate(20 761.7 412.9)" fill="none" stroke="#2b2b2b" stroke-width="0.9" />
<ellipse cx="760.6" cy="435.7" rx="1.8" ry="2.4" transform="rotate(20 760.6 435.7)" fill="none" stroke="#2b2b2b" stroke-width="0.9" />
<ellipse cx="771.3" cy="446.9" rx="1.8" ry="2.4" transform="rotate(20 771.3 446.9)" fill="none" stroke="#2b2b2b" stroke-width="0.9" />
<ellipse cx="801.6" cy="417.7" rx="13.3" ry="17" transform="rotate(26 801.6 417.7)" fill="#fff" stroke="#2b2b2b" stroke-width="1.3" />
<ellipse cx="800.5" cy="419" rx="10.2" ry="13.2" transform="rotate(26 800.5 419)" fill="none" stroke="#2b2b2b" stroke-width="1.2" />
<ellipse cx="801" cy="418.5" rx="11.8" ry="15.3" transform="rotate(26 801 418.5)" fill="none" stroke="#888" stroke-width="0.8" />
<line x1="795" y1="413" x2="806" y2="421" stroke="#888" stroke-width="0.8" />
<path d="M676.8,455.6 L766.4,429" fill="none" stroke="#8a8a8a" stroke-width="1.5" />
<path d="M676.8,455.6 L766.4,429" fill="none" stroke="#f0f0f0" stroke-width="0.5" />
<ellipse cx="678" cy="455.5" rx="3" ry="2" transform="rotate(-15 678 455.5)" fill="#bbb" stroke="#2b2b2b" stroke-width="1.2" />
<line x1="722" y1="335" x2="806" y2="306.5" stroke="#8a8a8a" stroke-width="1.5" />
<line x1="722" y1="335" x2="806" y2="306.5" stroke="#f0f0f0" stroke-width="0.5" />
<ellipse cx="809.5" cy="304.8" rx="3.5" ry="2.2" transform="rotate(-18 809.5 304.8)" fill="#bbb" stroke="#2b2b2b" stroke-width="1.2" />
<path d="M871.3,471.0 L871.4,469.6 L871.5,468.2 L871.7,466.9 L872.0,465.5 L872.3,464.1 L872.7,462.7 L873.2,461.4 L873.8,460.1 L874.4,458.8 L875.1,457.6 L875.9,456.4 L876.7,455.2 L877.6,454.2 L878.5,453.1 L879.5,452.2 L880.5,451.3 L881.5,450.5 L882.6,449.8 L883.7,449.2 L884.8,448.6 L885.9,448.2 L887.1,447.8 L888.2,447.6 L889.3,447.4 L890.5,447.3 L891.6,447.4 L892.7,447.5 L893.7,447.7 L894.8,448.0 L895.8,448.4 L896.7,448.9 L904.7,453.9 L905.7,454.5 L906.5,455.2 L907.3,455.9 L908.1,456.8 L908.8,457.7 L909.4,458.6 L910.0,459.7 L910.5,460.8 L910.9,462.0 L911.3,463.2 L911.5,464.4 L911.7,465.7 L911.9,467.1 L911.9,468.4 L911.9,469.8 L911.7,471.2 L911.5,472.5 L911.2,473.9 L910.9,475.3 L910.5,476.7 L910.0,478.0 L909.4,479.3 L908.8,480.6 L908.1,481.8 L907.3,483.0 L906.5,484.2 L905.6,485.2 L904.7,486.2 L903.7,487.2 L902.7,488.1 L901.7,488.9 L900.6,489.6 L899.5,490.2 L898.4,490.8 L897.3,491.2 L896.1,491.6 L895.0,491.8 L893.9,492.0 L892.7,492.1 L891.6,492.1 L890.5,491.9 L889.5,491.7 L888.4,491.4 L887.4,491.0 L886.5,490.5 L878.5,485.5 L877.5,484.9 L876.7,484.2 L875.9,483.5 L875.1,482.6 L874.4,481.7 L873.8,480.8 L873.2,479.7 L872.7,478.6 L872.3,477.4 L871.9,476.2 L871.6,475.0 L871.5,473.7 L871.3,472.4 Z" fill="#fff" stroke="#2b2b2b" stroke-width="1.4" />
<ellipse cx="895.6" cy="472.2" rx="15.5" ry="20.5" transform="rotate(22 895.6 472.2)" fill="none" stroke="#555" stroke-width="0.9" />
<ellipse cx="895.6" cy="472.2" rx="14.415000000000001" ry="19.065" transform="rotate(22 895.6 472.2)" fill="none" stroke="#999" stroke-width="0.7" />
<circle cx="907.1" cy="476.8" r="1.16" fill="none" stroke="#999" stroke-width="0.7"/>
<circle cx="903.9" cy="482.3" r="1.16" fill="none" stroke="#999" stroke-width="0.7"/>
<circle cx="899.4" cy="486.2" r="1.16" fill="none" stroke="#999" stroke-width="0.7"/>
<circle cx="894.3" cy="488.0" r="1.16" fill="none" stroke="#999" stroke-width="0.7"/>
<circle cx="889.5" cy="487.4" r="1.16" fill="none" stroke="#999" stroke-width="0.7"/>
<circle cx="885.5" cy="484.5" r="1.16" fill="none" stroke="#999" stroke-width="0.7"/>
<circle cx="883.1" cy="479.7" r="1.16" fill="none" stroke="#999" stroke-width="0.7"/>
<circle cx="882.6" cy="473.7" r="1.16" fill="none" stroke="#999" stroke-width="0.7"/>
<circle cx="884.1" cy="467.6" r="1.16" fill="none" stroke="#999" stroke-width="0.7"/>
<circle cx="887.3" cy="462.1" r="1.16" fill="none" stroke="#999" stroke-width="0.7"/>
<circle cx="891.8" cy="458.2" r="1.16" fill="none" stroke="#999" stroke-width="0.7"/>
<circle cx="896.9" cy="456.4" r="1.16" fill="none" stroke="#999" stroke-width="0.7"/>
<circle cx="901.7" cy="457.0" r="1.16" fill="none" stroke="#999" stroke-width="0.7"/>
<circle cx="905.7" cy="459.9" r="1.16" fill="none" stroke="#999" stroke-width="0.7"/>
<circle cx="908.1" cy="464.7" r="1.16" fill="none" stroke="#999" stroke-width="0.7"/>
<circle cx="908.6" cy="470.7" r="1.16" fill="none" stroke="#999" stroke-width="0.7"/>
<ellipse cx="895.6" cy="472.2" rx="10.23" ry="13.530000000000001" transform="rotate(22 895.6 472.2)" fill="none" stroke="#888" stroke-width="0.8" />
<ellipse cx="896.1" cy="472.7" rx="8.525" ry="11.275" transform="rotate(22 896.1 472.7)" fill="none" stroke="#2b2b2b" stroke-width="1.1" />
<ellipse cx="896.6" cy="473.2" rx="6.51" ry="8.61" transform="rotate(22 896.6 473.2)" fill="none" stroke="#666" stroke-width="0.8" />
<line x1="813" y1="430" x2="878" y2="462" stroke="#888" stroke-width="1" stroke-dasharray="12 3 2 3"/>
<line x1="906" y1="476" x2="925" y2="488" stroke="#888" stroke-width="1" stroke-dasharray="12 3 2 3"/>
<path d="M959.5,454.5 L961.2,453.2 L963.0,452.0 L964.8,450.7 L966.5,449.6 L968.3,448.5 L970.1,447.4 L971.9,446.4 L973.7,445.4 L975.5,444.5 L977.3,443.7 L979.1,442.9 L980.9,442.2 L982.7,441.5 L984.4,440.9 L986.2,440.3 L988.0,439.8 L989.7,439.4 L991.5,439.0 L993.2,438.6 L995.0,438.4 L996.7,438.2 L998.4,438.0 L1000.1,437.9 L1001.7,437.9 L1003.4,437.9 L1005.0,438.0 L1006.6,438.1 L1008.2,438.3 L1009.8,438.6 L1011.3,438.9 L1012.9,439.3 L1014.4,439.7 L1015.9,440.2 L1017.3,440.8 L1018.7,441.4 L1020.1,442.1 L1021.5,442.8 L1022.8,443.6 L1024.1,444.4 L1025.4,445.3 L1026.6,446.2 L1027.9,447.2 L1029.0,448.3 L1030.2,449.4 L1031.3,450.6 L1032.3,451.8 L1033.4,453.0 L1034.4,454.3 L1035.3,455.7 L1036.2,457.1 L1037.1,458.6 L1037.9,460.1 L1038.7,461.6 L1039.5,463.2 L1040.2,464.8 L1040.8,466.5 L1041.5,468.2 L1042.1,469.9 L1042.6,471.7 L1043.1,473.6 L1043.5,475.4 L1043.9,477.3 L1044.3,479.3 L1044.6,481.2 L1044.9,483.2 L1045.1,485.3 L1045.3,487.3 L1045.4,489.4 L1045.5,491.5 L1045.6,493.6 L1045.6,495.8 L1045.5,498.0 L1045.4,500.2 L1045.3,502.4 L1045.1,504.6 L1044.9,506.9 L1044.6,509.1 L1044.3,511.4 L1043.9,513.7 L1043.5,516.0 L1043.1,518.3 L1042.6,520.6 L1042.0,523.0 L1041.5,525.3 L1040.8,527.6 L1040.2,529.9 L1039.4,532.3 L1038.7,534.6 L1037.9,536.9 L1037.1,539.2 L1036.2,541.6 L1035.3,543.9 L1034.3,546.2 L1033.3,548.4 L1032.3,550.7 L1031.2,553.0 L1030.1,555.2 L1029.0,557.4 L1027.8,559.7 L1026.6,561.8 L1025.4,564.0 L1024.1,566.2 L1022.8,568.3 L1021.5,570.4 L1020.1,572.5 L1018.7,574.5 L1017.3,576.5 L1015.8,578.5 L1014.3,580.4 L1012.8,582.4 L1011.3,584.3 L1009.8,586.1 L1008.2,587.9 L1006.6,589.7 L1005.0,591.4 L1003.3,593.1 L1001.7,594.8 L1000.0,596.4 L998.3,598.0 L996.6,599.5" fill="none" stroke="#2b2b2b" stroke-width="1.2" stroke-dasharray="9 2.5 2 2.5"/>
<path d="M1018.9,457.6 C1019.0,457.7 1019.1,457.8 1019.2,457.8 C1019.4,457.8 1019.5,457.9 1019.7,457.8 C1019.9,457.7 1020.0,457.8 1020.5,457.2 C1021.1,456.6 1022.2,455.1 1022.7,454.4 C1023.3,453.8 1023.7,453.5 1024.0,453.2 C1024.3,452.9 1024.5,452.9 1024.8,452.8 C1025.1,452.6 1025.3,452.5 1025.5,452.4 C1025.8,452.3 1026.0,452.3 1026.2,452.2 C1026.4,452.2 1026.6,452.2 1026.8,452.1 C1026.9,452.1 1027.1,452.1 1027.3,452.2 C1027.4,452.2 1027.6,452.3 1027.7,452.3 C1027.8,452.4 1028.0,452.5 1028.1,452.6 C1028.2,452.7 1028.3,452.8 1028.4,453.0 C1028.4,453.1 1028.5,453.3 1028.6,453.4 C1028.6,453.6 1028.6,453.8 1028.7,454.1 C1028.7,454.3 1028.7,454.5 1028.7,454.8 C1028.7,455.0 1028.7,455.3 1028.7,455.6 C1028.6,455.9 1028.6,456.2 1028.5,456.5 C1028.5,456.8 1028.5,457.1 1028.3,457.5 C1028.1,458.0 1028.0,458.5 1027.6,459.3 C1027.1,460.1 1026.1,461.7 1025.7,462.4 C1025.4,463.1 1025.4,463.3 1025.4,463.5 C1025.3,463.8 1025.4,463.9 1025.5,464.0 C1025.5,464.2 1025.6,464.3 1025.7,464.4 C1025.7,464.6 1025.8,464.6 1026.0,464.7 C1026.1,464.8 1026.1,464.9 1026.3,464.9 C1026.6,464.8 1026.7,464.9 1027.2,464.4 C1027.8,463.9 1029.0,462.6 1029.7,462.1 C1030.3,461.5 1030.6,461.3 1031.0,461.1 C1031.4,460.9 1031.5,461.0 1031.8,460.9 C1032.0,460.8 1032.3,460.8 1032.5,460.7 C1032.7,460.7 1032.9,460.7 1033.1,460.7 C1033.3,460.7 1033.5,460.7 1033.7,460.8 C1033.8,460.8 1034.0,460.9 1034.1,460.9 C1034.3,461.0 1034.4,461.1 1034.5,461.2 C1034.6,461.3 1034.7,461.4 1034.8,461.6 C1034.8,461.7 1034.9,461.9 1035.0,462.1 C1035.0,462.2 1035.0,462.4 1035.1,462.6 C1035.1,462.8 1035.1,463.1 1035.1,463.3 C1035.1,463.5 1035.0,463.8 1035.0,464.1 C1034.9,464.3 1034.9,464.6 1034.8,464.9 C1034.7,465.2 1034.6,465.5 1034.5,465.9 C1034.4,466.2 1034.4,466.5 1034.2,466.9 C1034.0,467.3 1033.7,467.8 1033.2,468.5 C1032.7,469.3 1031.5,470.7 1031.1,471.3 C1030.6,472.0 1030.6,472.2 1030.5,472.5 C1030.5,472.7 1030.5,472.8 1030.6,473.0 C1030.6,473.2 1030.6,473.4 1030.7,473.5 C1030.7,473.6 1030.8,473.8 1030.9,473.9 C1031.0,474.0 1031.0,474.1 1031.2,474.1 C1031.4,474.1 1031.5,474.2 1032.1,473.9 C1032.7,473.6 1034.0,472.5 1034.6,472.1 C1035.3,471.7 1035.7,471.6 1036.0,471.5 C1036.4,471.4 1036.5,471.4 1036.8,471.4 C1037.0,471.4 1037.2,471.4 1037.4,471.4 C1037.6,471.5 1037.8,471.5 1038.0,471.6 C1038.2,471.6 1038.3,471.7 1038.5,471.8 C1038.6,471.9 1038.7,472.0 1038.9,472.1 C1039.0,472.2 1039.1,472.3 1039.1,472.5 C1039.2,472.6 1039.3,472.8 1039.3,473.0 C1039.4,473.1 1039.4,473.3 1039.4,473.5 C1039.4,473.7 1039.4,473.9 1039.4,474.2 C1039.4,474.4 1039.4,474.6 1039.3,474.9 C1039.3,475.1 1039.2,475.4 1039.1,475.7 C1039.0,475.9 1038.9,476.2 1038.8,476.5 C1038.7,476.8 1038.6,477.1 1038.4,477.4 C1038.3,477.8 1038.2,478.0 1037.9,478.4 C1037.7,478.9 1037.4,479.3 1036.8,479.9 C1036.2,480.5 1034.9,481.7 1034.4,482.3 C1033.9,482.9 1033.9,483.1 1033.8,483.3 C1033.6,483.6 1033.7,483.8 1033.7,483.9 C1033.7,484.1 1033.7,484.3 1033.7,484.5 C1033.7,484.7 1033.8,484.8 1033.9,484.9 C1033.9,485.1 1033.9,485.3 1034.1,485.3 C1034.3,485.4 1034.4,485.5 1034.9,485.3 C1035.5,485.1 1036.9,484.3 1037.5,484.1 C1038.2,483.8 1038.5,483.8 1038.8,483.8 C1039.2,483.8 1039.3,483.9 1039.5,483.9 C1039.7,484.0 1039.9,484.1 1040.1,484.2 C1040.3,484.2 1040.5,484.3 1040.6,484.4 C1040.8,484.6 1040.9,484.7 1041.0,484.8 C1041.1,484.9 1041.2,485.1 1041.3,485.2 C1041.4,485.4 1041.5,485.6 1041.5,485.7 C1041.5,485.9 1041.6,486.1 1041.6,486.3 C1041.6,486.5 1041.6,486.7 1041.6,486.9 C1041.6,487.1 1041.5,487.3 1041.5,487.6 C1041.4,487.8 1041.4,488.1 1041.3,488.3 C1041.2,488.6 1041.1,488.8 1041.0,489.1 C1040.9,489.4 1040.7,489.6 1040.6,489.9 C1040.4,490.2 1040.2,490.5 1040.1,490.8 C1039.9,491.1 1039.8,491.4 1039.4,491.7 C1039.1,492.1 1038.8,492.4 1038.2,493.0 C1037.6,493.5 1036.2,494.4 1035.6,494.8 C1035.1,495.3 1035.0,495.5 1034.9,495.8 C1034.7,496.0 1034.8,496.2 1034.7,496.4 C1034.7,496.6 1034.7,496.8 1034.7,497.0 C1034.7,497.2 1034.7,497.3 1034.7,497.5 C1034.8,497.7 1034.7,497.8 1034.9,498.0 C1035.0,498.1 1035.1,498.2 1035.6,498.2 C1036.2,498.1 1037.5,497.7 1038.2,497.6 C1038.8,497.5 1039.1,497.6 1039.4,497.6 C1039.7,497.7 1039.8,497.9 1040.0,498.0 C1040.2,498.1 1040.3,498.2 1040.5,498.4 C1040.6,498.5 1040.8,498.7 1040.9,498.8 C1041.0,499.0 1041.1,499.1 1041.2,499.3 C1041.3,499.5 1041.3,499.7 1041.4,499.8 C1041.4,500.0 1041.5,500.2 1041.5,500.4 C1041.5,500.6 1041.5,500.8 1041.5,501.0 C1041.5,501.3 1041.4,501.5 1041.4,501.7 C1041.3,501.9 1041.2,502.2 1041.2,502.4 C1041.1,502.6 1041.0,502.9 1040.9,503.1 C1040.7,503.3 1040.6,503.6 1040.5,503.8 C1040.3,504.1 1040.1,504.4 1040.0,504.6 C1039.8,504.9 1039.6,505.1 1039.4,505.4 C1039.1,505.7 1039.0,505.9 1038.7,506.2 C1038.3,506.5 1038.0,506.8 1037.3,507.2 C1036.7,507.6 1035.3,508.1 1034.7,508.5 C1034.2,508.8 1034.1,509.0 1033.9,509.3 C1033.7,509.5 1033.7,509.7 1033.6,509.9 C1033.6,510.1 1033.5,510.3 1033.5,510.5 C1033.5,510.7 1033.4,510.9 1033.5,511.0 C1033.5,511.2 1033.4,511.4 1033.5,511.6 C1033.6,511.7 1033.7,511.9 1034.2,512.0 C1034.7,512.1 1036.0,512.0 1036.5,512.1 C1037.1,512.2 1037.4,512.3 1037.6,512.5 C1037.9,512.6 1038.0,512.8 1038.1,513.0 C1038.3,513.2 1038.4,513.4 1038.5,513.6 C1038.6,513.8 1038.7,513.9 1038.8,514.1 C1038.9,514.3 1038.9,514.5 1039.0,514.7 C1039.0,514.9 1039.1,515.2 1039.1,515.4 C1039.1,515.6 1039.1,515.8 1039.1,516.0 C1039.0,516.2 1039.0,516.4 1039.0,516.7 C1038.9,516.9 1038.8,517.1 1038.8,517.3 C1038.7,517.6 1038.6,517.8 1038.5,518.0 C1038.3,518.2 1038.2,518.5 1038.1,518.7 C1037.9,518.9 1037.8,519.1 1037.6,519.4 C1037.4,519.6 1037.2,519.8 1037.0,520.0 C1036.8,520.3 1036.6,520.5 1036.3,520.7 C1036.1,520.9 1035.9,521.2 1035.6,521.4 C1035.2,521.6 1034.9,521.8 1034.2,522.0 C1033.6,522.3 1032.2,522.5 1031.7,522.7 C1031.1,522.9 1031.0,523.1 1030.8,523.3 C1030.6,523.5 1030.6,523.7 1030.5,523.9 C1030.4,524.1 1030.3,524.3 1030.2,524.5 C1030.2,524.7 1030.1,524.9 1030.1,525.1 C1030.1,525.3 1030.0,525.5 1030.1,525.7 C1030.2,525.9 1030.2,526.1 1030.6,526.3 C1031.0,526.5 1032.2,526.8 1032.7,527.0 C1033.2,527.3 1033.4,527.5 1033.7,527.8 C1033.9,528.0 1033.9,528.2 1034.0,528.4 C1034.1,528.7 1034.2,528.9 1034.3,529.1 C1034.3,529.4 1034.4,529.6 1034.4,529.8 C1034.5,530.1 1034.5,530.3 1034.5,530.5 C1034.5,530.7 1034.5,531.0 1034.5,531.2 C1034.5,531.4 1034.4,531.7 1034.4,531.9 C1034.3,532.1 1034.2,532.3 1034.2,532.5 C1034.1,532.8 1034.0,533.0 1033.9,533.2 C1033.8,533.4 1033.6,533.6 1033.5,533.8 C1033.4,534.0 1033.2,534.2 1033.0,534.4 C1032.9,534.6 1032.7,534.8 1032.5,535.0 C1032.3,535.2 1032.1,535.4 1031.9,535.6 C1031.6,535.8 1031.4,536.0 1031.2,536.1 C1030.9,536.3 1030.7,536.5 1030.4,536.6 C1030.0,536.8 1029.6,536.9 1029.0,537.0 C1028.4,537.0 1027.2,536.9 1026.6,537.0 C1026.1,537.0 1025.9,537.2 1025.7,537.4 C1025.5,537.5 1025.5,537.7 1025.3,537.9 C1025.2,538.1 1025.1,538.3 1025.0,538.5 C1025.0,538.6 1024.9,538.8 1024.8,539.0 C1024.8,539.3 1024.7,539.4 1024.7,539.7 C1024.8,539.9 1024.7,540.1 1025.1,540.5 C1025.4,540.8 1026.4,541.5 1026.9,541.8 C1027.3,542.2 1027.4,542.6 1027.6,542.9 C1027.7,543.2 1027.7,543.4 1027.8,543.7 C1027.8,544.0 1027.9,544.2 1027.9,544.5 C1027.9,544.8 1027.9,545.0 1027.9,545.3 C1027.9,545.5 1027.9,545.8 1027.9,546.0 C1027.9,546.3 1027.8,546.5 1027.8,546.7 C1027.7,547.0 1027.6,547.2 1027.6,547.4 C1027.5,547.7 1027.4,547.9 1027.3,548.1 C1027.2,548.3 1027.0,548.5 1026.9,548.7 C1026.8,548.9 1026.6,549.1 1026.5,549.3 C1026.3,549.4 1026.1,549.6 1025.9,549.8 C1025.8,550.0 1025.6,550.1 1025.4,550.3 C1025.1,550.4 1024.9,550.6 1024.7,550.7 C1024.5,550.8 1024.2,550.9 1024.0,551.1 C1023.7,551.2 1023.5,551.3 1023.2,551.4 C1022.8,551.4 1022.5,551.5 1021.9,551.4 C1021.4,551.3 1020.3,550.8 1019.8,550.7 C1019.3,550.6 1019.1,550.8 1018.9,550.9 C1018.7,551.0 1018.6,551.2 1018.5,551.3 C1018.3,551.5 1018.2,551.7 1018.1,551.9 C1018.0,552.0 1017.9,552.2 1017.8,552.4 C1017.7,552.6 1017.6,552.8 1017.6,553.1 C1017.6,553.3 1017.5,553.5 1017.8,554.0 C1018.0,554.5 1018.9,555.4 1019.2,556.0 C1019.5,556.5 1019.6,556.9 1019.7,557.2 C1019.8,557.6 1019.7,557.9 1019.7,558.2 C1019.7,558.5 1019.7,558.8 1019.7,559.0 C1019.7,559.3 1019.6,559.6 1019.6,559.9 C1019.6,560.2 1019.5,560.4 1019.4,560.7 C1019.4,560.9 1019.3,561.2 1019.2,561.4 C1019.1,561.6 1019.0,561.9 1018.9,562.1 C1018.8,562.3 1018.7,562.5 1018.5,562.7 C1018.4,562.9 1018.3,563.1 1018.1,563.2 C1017.9,563.4 1017.8,563.6 1017.6,563.7 C1017.4,563.9 1017.3,564.0 1017.1,564.1 C1016.9,564.2 1016.7,564.4 1016.5,564.5 C1016.2,564.6 1016.0,564.7 1015.8,564.7 C1015.6,564.8 1015.3,564.9 1015.1,564.9 C1014.8,565.0 1014.6,565.1 1014.3,565.0 C1014.0,565.0 1013.7,565.0 1013.2,564.7 C1012.7,564.4 1011.8,563.6 1011.3,563.4 C1010.9,563.2 1010.7,563.3 1010.5,563.4 C1010.3,563.4 1010.2,563.6 1010.1,563.7 C1009.9,563.9 1009.8,564.0 1009.6,564.2 C1009.5,564.3 1009.4,564.5 1009.3,564.7 C1009.2,564.9 1009.1,565.0 1009.0,565.3 C1009.0,565.6 1008.9,565.8 1009.0,566.4 C1009.2,566.9 1009.8,568.2 1010.0,568.8 C1010.2,569.5 1010.2,569.9 1010.2,570.3 C1010.2,570.7 1010.1,571.0 1010.1,571.3 C1010.0,571.6 1010.0,571.9 1009.9,572.2 C1009.9,572.5 1009.8,572.8 1009.7,573.1 C1009.6,573.4 1009.5,573.6 1009.4,573.9 C1009.3,574.1 1009.2,574.4 1009.1,574.6 C1009.0,574.8 1008.9,575.0 1008.7,575.2 C1008.6,575.4 1008.4,575.6 1008.3,575.8 C1008.1,575.9 1008.0,576.1 1007.8,576.2 C1007.6,576.4 1007.5,576.5 1007.3,576.6 C1007.1,576.7 1006.9,576.8 1006.7,576.9 C1006.5,577.0 1006.3,577.0 1006.1,577.1 C1005.9,577.1 1005.7,577.2 1005.5,577.2 C1005.3,577.2 1005.0,577.2 1004.8,577.2 C1004.6,577.2 1004.4,577.2 1004.1,577.1 C1003.8,577.0 1003.5,576.9 1003.1,576.4 C1002.7,576.0 1002.1,574.9 1001.7,574.6 C1001.3,574.2 1001.2,574.3 1001.0,574.3 C1000.8,574.3 1000.6,574.5 1000.5,574.6 C1000.3,574.7 1000.2,574.8 1000.1,574.9 C999.9,575.0 999.8,575.2 999.7,575.4 C999.5,575.5 999.4,575.7 999.3,575.9 C999.2,576.2 999.1,576.4 999.1,577.1 C999.2,577.7 999.5,579.2 999.6,579.9 C999.6,580.7 999.6,581.1 999.6,581.6 C999.5,582.0 999.4,582.3 999.3,582.6 C999.2,582.9 999.1,583.2 999.0,583.5 C998.9,583.8 998.8,584.1 998.7,584.4 C998.5,584.7 998.4,584.9 998.3,585.2 C998.1,585.4 998.0,585.6 997.9,585.8 C997.7,586.0 997.6,586.2 997.4,586.4 C997.3,586.6 997.1,586.7 996.9,586.8 C996.8,587.0 996.6,587.1 996.4,587.2 C996.3,587.3 996.1,587.4 995.9,587.5 C995.7,587.5 995.5,587.6 995.4,587.6 C995.2,587.7 995.0,587.7 994.8,587.7 C994.6,587.7 994.4,587.6 994.2,587.6 C994.0,587.6 993.8,587.5 993.6,587.4 C993.4,587.3 993.2,587.4 993.0,587.1 C992.7,586.9 992.5,586.7 992.2,586.2 C991.9,585.6 991.5,584.2 991.2,583.8 C990.9,583.3 990.8,583.3 990.6,583.3 C990.4,583.2 990.3,583.4 990.1,583.4 C990.0,583.5 989.8,583.6 989.7,583.7 C989.5,583.8 989.4,583.9 989.2,584.1 C989.1,584.2 988.9,584.3 988.8,584.6 C988.7,584.8 988.6,585.0 988.5,585.7 C988.4,586.4 988.5,588.1 988.4,588.9 C988.4,589.7 988.2,590.1 988.1,590.6 C988.0,591.1 987.9,591.3 987.7,591.6 C987.6,592.0 987.5,592.3 987.3,592.6 C987.2,592.8 987.0,593.1 986.9,593.4 C986.7,593.6 986.6,593.9 986.4,594.1 C986.2,594.3 986.1,594.5 985.9,594.7 C985.8,594.8 985.6,595.0 985.4,595.1 C985.3,595.3 985.1,595.4 984.9,595.5 C984.8,595.6 984.6,595.7 984.4,595.7 C984.2,595.8 984.1,595.8 983.9,595.9 C983.7,595.9 983.5,595.9 983.4,595.9 C983.2,595.9 983.0,595.8 982.8,595.8 C982.7,595.7 982.5,595.6 982.3,595.5 C982.1,595.4 982.0,595.3 981.8,595.2 C981.6,595.1 981.5,595.0 981.3,594.7 C981.1,594.4 980.9,594.1 980.8,593.5 C980.6,592.8 980.4,591.2 980.2,590.7 C980.1,590.1 979.9,590.1 979.8,590.0 C979.6,589.9 979.5,590.0 979.3,590.0 C979.2,590.0 979.0,590.1 978.9,590.1 C978.7,590.2 978.6,590.3 978.4,590.4 C978.3,590.6 978.1,590.6 978.0,590.9 C977.8,591.1 977.7,591.2 977.5,592.0 C977.3,592.7 977.1,594.5 976.9,595.3 C976.7,596.2 976.6,596.6 976.4,597.1 C976.2,597.5 976.0,597.7 975.8,598.1 C975.7,598.4 975.5,598.6 975.3,598.9 C975.1,599.2 975.0,599.4 974.8,599.6 C974.6,599.9 974.4,600.1 974.3,600.3 C974.1,600.5 973.9,600.6 973.7,600.8 C973.6,600.9 973.4,601.0 973.2,601.1 C973.0,601.2 972.9,601.3 972.7,601.4 C972.5,601.4 972.4,601.5 972.2,601.5 C972.0,601.5 971.9,601.5 971.7,601.5 C971.5,601.5 971.4,601.4 971.2,601.4 C971.1,601.3 970.9,601.2 970.8,601.1 C970.6,601.0 970.5,600.9 970.3,600.7 C970.2,600.6 970.1,600.4 969.9,600.2 C969.8,600.0 969.7,599.9 969.5,599.6 C969.4,599.2 969.3,598.8 969.3,598.1 C969.2,597.3 969.3,595.6 969.3,595.0 C969.2,594.3 969.1,594.3 969.0,594.1 C968.8,594.0 968.7,594.0 968.5,594.0 C968.4,594.0 968.3,594.0 968.1,594.0 C968.0,594.1 967.8,594.1 967.7,594.2 C967.5,594.3 967.4,594.3 967.2,594.5 C967.0,594.8 966.8,594.9 966.6,595.6 C966.3,596.4 965.8,598.1 965.5,599.0 C965.2,599.8 965.0,600.3 964.7,600.7 C964.5,601.1 964.3,601.3 964.1,601.6 C963.9,601.9 963.7,602.1 963.5,602.4 C963.3,602.6 963.1,602.8 962.9,603.0 C962.7,603.2 962.5,603.4 962.3,603.5 C962.1,603.7 961.9,603.8 961.8,603.9 C961.6,604.0 961.4,604.1 961.2,604.1 C961.1,604.2 960.9,604.3 960.7,604.3 C960.6,604.3 960.4,604.3 960.2,604.3 C960.1,604.2 960.0,604.2 959.8,604.1 C959.7,604.1 959.5,604.0 959.4,603.9 C959.3,603.7 959.2,603.6 959.0,603.5 C958.9,603.3 958.8,603.1 958.7,602.9 C958.6,602.7 958.5,602.5 958.4,602.3 C958.3,602.0 958.2,601.9 958.2,601.5 C958.1,601.1 958.1,600.7 958.2,599.8 C958.3,599.0 958.6,597.2 958.7,596.5 C958.7,595.8 958.6,595.7 958.5,595.5 C958.5,595.3 958.3,595.4 958.2,595.3 C958.1,595.3 957.9,595.2 957.8,595.2 C957.7,595.2 957.5,595.3 957.3,595.3 C957.2,595.4 957.1,595.3 956.9,595.5 C956.7,595.7 956.5,595.8 956.1,596.5 C955.8,597.2 955.1,599.0 954.6,599.8 C954.2,600.6 953.9,601.0 953.7,601.4 C953.4,601.8 953.2,601.9 952.9,602.2 C952.7,602.4 952.5,602.6 952.3,602.8 C952.0,603.0 951.8,603.2 951.6,603.3 C951.4,603.5 951.2,603.6 951.0,603.7 C950.8,603.8 950.6,603.9 950.5,603.9 C950.3,604.0 950.1,604.0 949.9,604.1 C949.8,604.1 949.6,604.1 949.5,604.1 C949.3,604.0 949.2,604.0 949.0,603.9 C948.9,603.9 948.8,603.8 948.7,603.7 C948.6,603.5 948.5,603.4 948.4,603.3 C948.3,603.1 948.2,602.9 948.1,602.7 C948.0,602.5 947.9,602.3 947.9,602.1 C947.8,601.8 947.8,601.6 947.7,601.3 C947.7,601.0 947.6,600.8 947.6,600.4 C947.7,599.9 947.7,599.5 947.9,598.7 C948.1,597.8 948.7,596.0 948.9,595.3 C949.1,594.5 949.0,594.4 948.9,594.2 C948.9,594.0 948.7,594.0 948.6,593.9 C948.5,593.8 948.4,593.7 948.3,593.7 C948.2,593.6 948.0,593.6 947.9,593.6 C947.7,593.6 947.6,593.6 947.4,593.7 C947.2,593.9 947.1,593.9 946.6,594.5 C946.2,595.2 945.2,596.9 944.7,597.6 C944.2,598.4 943.9,598.7 943.6,599.1 C943.3,599.4 943.1,599.5 942.8,599.7 C942.6,599.9 942.3,600.0 942.1,600.2 C941.9,600.3 941.6,600.4 941.4,600.6 C941.2,600.7 941.0,600.7 940.8,600.8 C940.6,600.8 940.4,600.9 940.3,600.9 C940.1,600.9 939.9,600.9 939.8,600.9 C939.6,600.9 939.5,600.8 939.4,600.8 C939.2,600.7 939.1,600.6 939.0,600.5 C938.9,600.4 938.8,600.3 938.7,600.1 C938.6,600.0 938.6,599.8 938.5,599.6 C938.4,599.4 938.4,599.2 938.3,599.0 C938.3,598.7 938.3,598.5 938.3,598.2 C938.2,597.9 938.2,597.7 938.2,597.3 C938.3,597.0 938.2,596.8 938.3,596.4 C938.4,595.9 938.5,595.4 938.8,594.6 C939.2,593.7 940.0,592.0 940.3,591.3 C940.5,590.5 940.5,590.4 940.5,590.1 C940.5,589.9 940.3,589.8 940.3,589.7 C940.2,589.6 940.1,589.5 940.0,589.4 C939.9,589.3 939.8,589.3 939.6,589.3 C939.5,589.2 939.4,589.1 939.2,589.2 C939.0,589.3 938.8,589.3 938.3,589.9 C937.8,590.4 936.7,592.0 936.1,592.6 C935.6,593.3 935.2,593.6 934.9,593.8 C934.5,594.1 934.3,594.2 934.1,594.3 C933.8,594.4 933.6,594.5 933.4,594.6 C933.1,594.7 932.9,594.8 932.7,594.8 C932.5,594.9 932.3,594.9 932.1,594.9 C931.9,594.9 931.8,594.9 931.6,594.9 C931.4,594.9 931.3,594.8 931.2,594.7 C931.0,594.7 930.9,594.6 930.8,594.5 C930.7,594.4 930.6,594.2 930.5,594.1 C930.4,594.0 930.4,593.8 930.3,593.6 C930.3,593.4 930.2,593.2 930.2,593.0 C930.2,592.8 930.2,592.6 930.2,592.3 C930.2,592.0 930.2,591.8 930.2,591.5 C930.2,591.2 930.3,590.9 930.4,590.6 C930.4,590.2 930.4,590.0 930.6,589.5 C930.7,589.1 930.9,588.6 931.3,587.8 C931.8,587.0 932.8,585.4 933.2,584.7 C933.5,584.0 933.5,583.8 933.5,583.5 C933.6,583.3 933.5,583.2 933.4,583.0 C933.4,582.9 933.3,582.7 933.2,582.6 C933.1,582.5 933.0,582.4 932.9,582.4 C932.8,582.3 932.7,582.1 932.5,582.2 C932.3,582.2 932.2,582.2 931.6,582.7 C931.1,583.1 929.8,584.4 929.2,585.0 C928.6,585.5 928.2,585.7 927.9,585.9 C927.5,586.1 927.3,586.1 927.1,586.2 C926.8,586.2 926.6,586.3 926.4,586.3 C926.2,586.4 926.0,586.4 925.8,586.4 C925.6,586.4 925.4,586.3 925.2,586.3 C925.1,586.3 924.9,586.2 924.8,586.1 C924.6,586.1 924.5,586.0 924.4,585.9 C924.3,585.7 924.2,585.6 924.1,585.5 C924.0,585.3 924.0,585.2 923.9,585.0 C923.9,584.8 923.8,584.6 923.8,584.4 C923.8,584.2 923.8,584.0 923.8,583.8 C923.8,583.5 923.9,583.3 923.9,583.0 C923.9,582.7 924.0,582.4 924.1,582.1 C924.1,581.8 924.2,581.5 924.3,581.2 C924.4,580.9 924.5,580.6 924.7,580.2 C924.9,579.7 925.1,579.3 925.7,578.5 C926.2,577.8 927.4,576.4 927.8,575.7 C928.3,575.1 928.3,574.9 928.3,574.6 C928.4,574.3 928.3,574.2 928.3,574.0 C928.3,573.9 928.3,573.7 928.2,573.6 C928.2,573.4 928.1,573.3 928.0,573.2 C927.9,573.1 927.9,572.9 927.7,572.9 C927.5,572.9 927.4,572.8 926.8,573.2 C926.2,573.5 924.9,574.5 924.2,575.0 C923.6,575.4 923.2,575.5 922.9,575.6 C922.5,575.7 922.4,575.6 922.1,575.7 C921.9,575.7 921.7,575.6 921.5,575.6 C921.3,575.6 921.1,575.5 920.9,575.5 C920.7,575.4 920.6,575.4 920.4,575.3 C920.3,575.2 920.1,575.1 920.0,575.0 C919.9,574.8 919.8,574.7 919.7,574.6 C919.7,574.4 919.6,574.3 919.6,574.1 C919.5,573.9 919.5,573.7 919.5,573.5 C919.4,573.3 919.4,573.1 919.5,572.9 C919.5,572.7 919.5,572.4 919.6,572.2 C919.6,571.9 919.7,571.7 919.8,571.4 C919.8,571.1 919.9,570.8 920.1,570.5 C920.2,570.2 920.3,569.9 920.4,569.6 C920.6,569.3 920.7,569.0 920.9,568.6 C921.2,568.2 921.5,567.8 922.1,567.2 C922.7,566.5 924.0,565.3 924.5,564.8 C925.0,564.2 925.0,564.0 925.1,563.7 C925.2,563.4 925.2,563.3 925.2,563.1 C925.2,562.9 925.2,562.7 925.2,562.6 C925.1,562.4 925.1,562.3 925.0,562.1 C925.0,562.0 925.0,561.8 924.8,561.7 C924.6,561.7 924.5,561.6 924.0,561.8 C923.4,562.0 922.0,562.7 921.4,563.0 C920.7,563.2 920.4,563.2 920.0,563.3 C919.7,563.3 919.6,563.2 919.3,563.1 C919.1,563.1 918.9,563.0 918.8,562.9 C918.6,562.8 918.4,562.7 918.3,562.6 C918.1,562.5 918.0,562.4 917.9,562.3 C917.8,562.1 917.7,562.0 917.6,561.8 C917.5,561.7 917.4,561.5 917.4,561.3 C917.3,561.2 917.3,561.0 917.3,560.8 C917.3,560.6 917.3,560.4 917.3,560.2 C917.3,559.9 917.3,559.7 917.4,559.5 C917.4,559.2 917.5,559.0 917.6,558.7 C917.7,558.5 917.8,558.2 917.9,558.0 C918.0,557.7 918.2,557.4 918.3,557.1 C918.5,556.9 918.6,556.6 918.8,556.3 C919.0,556.0 919.1,555.7 919.4,555.3 C919.7,555.0 920.1,554.6 920.7,554.1 C921.3,553.6 922.7,552.7 923.2,552.2 C923.8,551.8 923.8,551.5 924.0,551.3 C924.1,551.0 924.1,550.9 924.2,550.7 C924.2,550.5 924.2,550.3 924.2,550.1 C924.2,549.9 924.2,549.7 924.2,549.6 C924.1,549.4 924.2,549.2 924.0,549.1 C923.9,549.0 923.8,548.8 923.3,548.9 C922.7,549.0 921.4,549.4 920.7,549.5 C920.1,549.5 919.8,549.5 919.5,549.4 C919.2,549.4 919.1,549.2 918.9,549.1 C918.7,549.0 918.5,548.8 918.4,548.7 C918.2,548.5 918.1,548.4 918.0,548.2 C917.9,548.1 917.8,547.9 917.7,547.8 C917.6,547.6 917.5,547.4 917.5,547.2 C917.5,547.0 917.4,546.8 917.4,546.6 C917.4,546.4 917.4,546.2 917.4,546.0 C917.4,545.8 917.5,545.6 917.5,545.4 C917.6,545.1 917.6,544.9 917.7,544.7 C917.8,544.4 917.9,544.2 918.0,544.0 C918.1,543.7 918.3,543.5 918.4,543.2 C918.6,543.0 918.7,542.7 918.9,542.4 C919.1,542.2 919.3,541.9 919.5,541.7 C919.7,541.4 919.9,541.1 920.2,540.8 C920.6,540.5 920.9,540.2 921.6,539.9 C922.2,539.5 923.6,538.9 924.2,538.6 C924.7,538.2 924.8,538.0 925.0,537.8 C925.2,537.6 925.2,537.4 925.2,537.2 C925.3,537.0 925.4,536.8 925.4,536.6 C925.4,536.4 925.4,536.2 925.4,536.0 C925.4,535.8 925.5,535.6 925.4,535.5 C925.2,535.3 925.2,535.1 924.7,535.1 C924.2,535.0 922.9,535.0 922.3,535.0 C921.8,534.9 921.5,534.7 921.2,534.6 C921.0,534.4 920.9,534.2 920.7,534.0 C920.6,533.9 920.5,533.7 920.4,533.5 C920.3,533.3 920.2,533.1 920.1,532.9 C920.0,532.7 919.9,532.5 919.9,532.3 C919.8,532.1 919.8,531.9 919.8,531.7 C919.8,531.5 919.8,531.3 919.8,531.1 C919.8,530.8 919.9,530.6 919.9,530.4 C920.0,530.2 920.0,530.0 920.1,529.7 C920.2,529.5 920.3,529.3 920.4,529.1 C920.5,528.8 920.7,528.6 920.8,528.4 C921.0,528.2 921.1,527.9 921.3,527.7 C921.5,527.5 921.7,527.2 921.9,527.0 C922.1,526.8 922.3,526.6 922.5,526.3 C922.8,526.1 922.9,525.9 923.3,525.7 C923.6,525.5 924.0,525.2 924.7,525.0 C925.3,524.8 926.6,524.6 927.2,524.3 C927.8,524.1 927.9,523.9 928.1,523.7 C928.3,523.6 928.3,523.4 928.4,523.2 C928.5,523.0 928.6,522.8 928.6,522.6 C928.7,522.4 928.7,522.2 928.8,522.0 C928.8,521.8 928.9,521.6 928.8,521.4 C928.7,521.2 928.7,521.0 928.3,520.8 C927.8,520.5 926.7,520.3 926.2,520.0 C925.7,519.8 925.4,519.5 925.2,519.3 C925.0,519.1 925.0,518.8 924.9,518.6 C924.8,518.4 924.7,518.2 924.6,517.9 C924.5,517.7 924.5,517.5 924.5,517.2 C924.4,517.0 924.4,516.8 924.4,516.5 C924.4,516.3 924.4,516.1 924.4,515.9 C924.4,515.6 924.5,515.4 924.5,515.2 C924.6,515.0 924.6,514.7 924.7,514.5 C924.8,514.3 924.9,514.1 925.0,513.9 C925.1,513.6 925.2,513.4 925.4,513.2 C925.5,513.0 925.7,512.8 925.8,512.6 C926.0,512.4 926.2,512.2 926.4,512.0 C926.6,511.8 926.8,511.6 927.0,511.5 C927.2,511.3 927.5,511.1 927.7,510.9 C928.0,510.8 928.2,510.6 928.5,510.4 C928.9,510.3 929.2,510.2 929.9,510.1 C930.5,510.0 931.7,510.2 932.3,510.1 C932.8,510.0 932.9,509.9 933.1,509.7 C933.4,509.5 933.4,509.3 933.5,509.2 C933.7,509.0 933.8,508.8 933.8,508.6 C933.9,508.4 934.0,508.2 934.0,508.0 C934.1,507.8 934.2,507.6 934.2,507.4 C934.1,507.2 934.2,507.0 933.8,506.6 C933.5,506.2 932.4,505.6 932.0,505.2 C931.6,504.8 931.4,504.5 931.3,504.2 C931.1,503.9 931.1,503.6 931.1,503.4 C931.0,503.1 931.0,502.8 931.0,502.6 C930.9,502.3 930.9,502.0 930.9,501.8 C930.9,501.5 931.0,501.3 931.0,501.0 C931.0,500.8 931.1,500.5 931.1,500.3 C931.2,500.1 931.2,499.9 931.3,499.6 C931.4,499.4 931.5,499.2 931.6,499.0 C931.7,498.8 931.8,498.6 932.0,498.4 C932.1,498.2 932.3,498.0 932.4,497.8 C932.6,497.6 932.8,497.4 932.9,497.3 C933.1,497.1 933.3,496.9 933.5,496.8 C933.7,496.6 934.0,496.5 934.2,496.4 C934.4,496.2 934.7,496.1 934.9,496.0 C935.2,495.9 935.4,495.7 935.7,495.7 C936.0,495.6 936.4,495.6 937.0,495.7 C937.5,495.8 938.6,496.3 939.1,496.4 C939.6,496.4 939.8,496.3 940.0,496.2 C940.2,496.1 940.3,495.9 940.4,495.7 C940.6,495.6 940.7,495.4 940.8,495.2 C940.9,495.0 941.0,494.8 941.1,494.6 C941.2,494.4 941.3,494.3 941.3,494.0 C941.3,493.7 941.4,493.5 941.1,493.1 C940.8,492.6 940.0,491.6 939.7,491.1 C939.4,490.6 939.3,490.2 939.2,489.8 C939.1,489.5 939.2,489.2 939.2,488.9 C939.2,488.6 939.2,488.3 939.2,488.0 C939.2,487.7 939.2,487.4 939.3,487.2 C939.3,486.9 939.4,486.6 939.4,486.4 C939.5,486.1 939.6,485.9 939.7,485.7 C939.8,485.4 939.9,485.2 940.0,485.0 C940.1,484.8 940.2,484.6 940.4,484.4 C940.5,484.2 940.6,484.0 940.8,483.8 C940.9,483.7 941.1,483.5 941.3,483.4 C941.4,483.2 941.6,483.1 941.8,482.9 C942.0,482.8 942.2,482.7 942.4,482.6 C942.6,482.5 942.9,482.4 943.1,482.3 C943.3,482.2 943.6,482.2 943.8,482.1 C944.0,482.1 944.3,482.0 944.6,482.0 C944.9,482.1 945.2,482.1 945.7,482.4 C946.2,482.6 947.1,483.4 947.5,483.7 C948.0,483.9 948.1,483.8 948.3,483.7 C948.6,483.7 948.7,483.5 948.8,483.3 C949.0,483.2 949.1,483.1 949.2,482.9 C949.4,482.7 949.5,482.6 949.6,482.4 C949.7,482.2 949.8,482.0 949.9,481.8 C949.9,481.5 950.0,481.3 949.9,480.7 C949.7,480.1 949.1,478.9 948.9,478.3 C948.7,477.6 948.7,477.2 948.7,476.8 C948.7,476.3 948.7,476.1 948.8,475.8 C948.8,475.4 948.9,475.1 949.0,474.8 C949.0,474.5 949.1,474.2 949.2,474.0 C949.3,473.7 949.3,473.4 949.4,473.2 C949.6,472.9 949.7,472.7 949.8,472.5 C949.9,472.2 950.0,472.0 950.2,471.8 C950.3,471.6 950.4,471.5 950.6,471.3 C950.7,471.1 950.9,471.0 951.1,470.8 C951.2,470.7 951.4,470.6 951.6,470.5 C951.8,470.3 952.0,470.2 952.1,470.2 C952.3,470.1 952.5,470.0 952.7,470.0 C953.0,469.9 953.2,469.9 953.4,469.9 C953.6,469.8 953.8,469.8 954.1,469.9 C954.3,469.9 954.5,469.8 954.8,469.9 C955.1,470.1 955.3,470.2 955.7,470.6 C956.1,471.0 956.8,472.1 957.2,472.5 C957.5,472.8 957.7,472.8 957.9,472.8 C958.1,472.8 958.2,472.6 958.4,472.5 C958.5,472.4 958.7,472.3 958.8,472.2 C959.0,472.0 959.1,471.9 959.2,471.7 C959.4,471.5 959.5,471.4 959.6,471.1 C959.7,470.8 959.8,470.7 959.7,470.0 C959.7,469.3 959.4,467.9 959.3,467.1 C959.2,466.4 959.3,465.9 959.3,465.5 C959.4,465.0 959.5,464.8 959.6,464.5 C959.7,464.1 959.8,463.8 959.9,463.5 C960.0,463.2 960.1,462.9 960.2,462.7 C960.3,462.4 960.5,462.1 960.6,461.9 C960.7,461.7 960.9,461.4 961.0,461.2 C961.2,461.0 961.3,460.8 961.5,460.7 C961.6,460.5 961.8,460.4 961.9,460.2 C962.1,460.1 962.3,460.0 962.4,459.9 C962.6,459.7 962.8,459.7 963.0,459.6 C963.2,459.5 963.3,459.5 963.5,459.4 C963.7,459.4 963.9,459.4 964.1,459.4 C964.3,459.4 964.5,459.4 964.7,459.5 C964.9,459.5 965.1,459.6 965.3,459.6 C965.5,459.7 965.7,459.7 965.9,459.9 C966.2,460.1 966.4,460.3 966.7,460.9 C967.0,461.5 967.4,462.8 967.7,463.3 C968.0,463.8 968.1,463.7 968.3,463.8 C968.5,463.8 968.6,463.7 968.8,463.6 C968.9,463.6 969.1,463.5 969.2,463.4 C969.4,463.3 969.5,463.1 969.7,463.0 C969.8,462.8 969.9,462.8 970.1,462.5 C970.2,462.2 970.3,462.1 970.4,461.3 C970.5,460.6 970.4,459.0 970.5,458.2 C970.5,457.4 970.6,456.9 970.7,456.4 C970.9,456.0 971.0,455.7 971.2,455.4 C971.3,455.1 971.4,454.8 971.6,454.5 C971.7,454.2 971.9,453.9 972.0,453.7 C972.2,453.4 972.3,453.2 972.5,453.0 C972.6,452.8 972.8,452.6 973.0,452.4 C973.1,452.2 973.3,452.1 973.5,451.9 C973.6,451.8 973.8,451.7 974.0,451.6 C974.1,451.5 974.3,451.4 974.5,451.3 C974.6,451.3 974.8,451.2 975.0,451.2 C975.2,451.2 975.3,451.2 975.5,451.2 C975.7,451.2 975.9,451.2 976.0,451.3 C976.2,451.3 976.4,451.4 976.6,451.5 C976.7,451.6 976.9,451.7 977.1,451.9 C977.3,452.0 977.4,452.1 977.6,452.3 C977.8,452.6 977.9,452.9 978.1,453.6 C978.3,454.3 978.5,455.8 978.6,456.4 C978.8,457.0 978.9,457.0 979.1,457.1 C979.3,457.2 979.4,457.1 979.6,457.1 C979.7,457.0 979.9,457.0 980.0,456.9 C980.2,456.8 980.3,456.7 980.5,456.6 C980.6,456.5 980.8,456.5 980.9,456.2 C981.1,456.0 981.2,455.8 981.4,455.1 C981.6,454.3 981.8,452.6 982.0,451.8 C982.1,450.9 982.3,450.4 982.5,450.0 C982.7,449.5 982.9,449.3 983.0,449.0 C983.2,448.7 983.4,448.4 983.6,448.1 C983.7,447.9 983.9,447.6 984.1,447.4 C984.3,447.2 984.5,447.0 984.6,446.8 C984.8,446.6 985.0,446.4 985.2,446.3 C985.3,446.2 985.5,446.0 985.7,445.9 C985.8,445.8 986.0,445.7 986.2,445.7 C986.4,445.6 986.5,445.6 986.7,445.6 C986.9,445.5 987.0,445.5 987.2,445.6 C987.3,445.6 987.5,445.6 987.7,445.7 C987.8,445.8 988.0,445.8 988.1,446.0 C988.3,446.1 988.4,446.2 988.5,446.3 C988.7,446.5 988.8,446.7 989.0,446.9 C989.1,447.1 989.2,447.2 989.3,447.5 C989.4,447.9 989.6,448.2 989.6,449.0 C989.6,449.7 989.6,451.4 989.6,452.1 C989.7,452.8 989.8,452.8 989.9,452.9 C990.0,453.1 990.2,453.0 990.3,453.0 C990.5,453.1 990.6,453.1 990.8,453.0 C990.9,453.0 991.1,452.9 991.2,452.8 C991.4,452.7 991.5,452.7 991.7,452.5 C991.9,452.3 992.0,452.2 992.3,451.4 C992.6,450.7 993.1,448.9 993.4,448.1 C993.7,447.2 993.9,446.8 994.1,446.3 C994.4,445.9 994.6,445.7 994.8,445.5 C995.0,445.2 995.2,444.9 995.4,444.7 C995.6,444.5 995.8,444.2 996.0,444.1 C996.2,443.9 996.4,443.7 996.6,443.5 C996.8,443.4 996.9,443.3 997.1,443.2 C997.3,443.1 997.5,443.0 997.7,442.9 C997.8,442.8 998.0,442.8 998.2,442.8 C998.3,442.8 998.5,442.8 998.6,442.8 C998.8,442.8 998.9,442.9 999.1,442.9 C999.2,443.0 999.3,443.1 999.5,443.2 C999.6,443.3 999.7,443.5 999.8,443.6 C1000.0,443.8 1000.1,443.9 1000.2,444.1 C1000.3,444.3 1000.4,444.6 1000.5,444.8 C1000.5,445.0 1000.7,445.2 1000.7,445.6 C1000.7,446.0 1000.8,446.4 1000.7,447.2 C1000.6,448.0 1000.3,449.8 1000.2,450.5 C1000.1,451.2 1000.3,451.3 1000.3,451.5 C1000.4,451.7 1000.6,451.7 1000.7,451.7 C1000.8,451.8 1001.0,451.8 1001.1,451.8 C1001.2,451.8 1001.4,451.8 1001.5,451.8 C1001.7,451.7 1001.8,451.7 1002.0,451.5 C1002.2,451.4 1002.4,451.3 1002.7,450.6 C1003.1,449.9 1003.8,448.1 1004.2,447.3 C1004.6,446.5 1004.9,446.1 1005.2,445.7 C1005.5,445.3 1005.7,445.1 1005.9,444.9 C1006.2,444.7 1006.4,444.5 1006.6,444.3 C1006.8,444.1 1007.0,443.9 1007.3,443.7 C1007.5,443.6 1007.7,443.5 1007.9,443.4 C1008.1,443.3 1008.2,443.2 1008.4,443.1 C1008.6,443.1 1008.8,443.0 1008.9,443.0 C1009.1,443.0 1009.3,443.0 1009.4,443.0 C1009.6,443.0 1009.7,443.1 1009.8,443.1 C1010.0,443.2 1010.1,443.3 1010.2,443.4 C1010.3,443.5 1010.4,443.7 1010.5,443.8 C1010.6,444.0 1010.7,444.1 1010.8,444.3 C1010.9,444.5 1010.9,444.7 1011.0,445.0 C1011.1,445.2 1011.1,445.5 1011.2,445.8 C1011.2,446.0 1011.3,446.2 1011.2,446.7 C1011.2,447.1 1011.2,447.6 1011.0,448.4 C1010.8,449.3 1010.2,451.0 1010.0,451.8 C1009.8,452.5 1009.9,452.6 1010.0,452.9 C1010.0,453.1 1010.1,453.1 1010.2,453.2 C1010.3,453.3 1010.5,453.3 1010.6,453.4 C1010.7,453.4 1010.8,453.4 1011.0,453.4 C1011.1,453.4 1011.2,453.5 1011.5,453.3 C1011.7,453.2 1011.8,453.2 1012.3,452.5 C1012.7,451.9 1013.7,450.2 1014.2,449.4 C1014.7,448.7 1015.0,448.3 1015.3,448.0 C1015.6,447.7 1015.8,447.6 1016.1,447.4 C1016.3,447.2 1016.6,447.0 1016.8,446.9 C1017.0,446.7 1017.2,446.6 1017.5,446.5 C1017.7,446.4 1017.9,446.3 1018.1,446.3 C1018.2,446.2 1018.4,446.2 1018.6,446.2 C1018.8,446.1 1018.9,446.1 1019.1,446.2 C1019.2,446.2 1019.4,446.2 1019.5,446.3 C1019.6,446.4 1019.8,446.5 1019.9,446.6 C1020.0,446.7 1020.1,446.8 1020.2,447.0 C1020.2,447.1 1020.3,447.3 1020.4,447.5 C1020.4,447.7 1020.5,447.9 1020.5,448.1 C1020.6,448.3 1020.6,448.6 1020.6,448.8 C1020.6,449.1 1020.6,449.4 1020.6,449.7 C1020.6,450.0 1020.7,450.2 1020.6,450.7 C1020.5,451.2 1020.4,451.6 1020.0,452.5 C1019.7,453.3 1018.9,455.0 1018.6,455.8 C1018.3,456.5 1018.4,456.7 1018.4,456.9 C1018.4,457.2 1018.5,457.2 1018.6,457.3 C1018.7,457.5 1018.8,457.6 1018.9,457.6 Z" fill="#fff" stroke="#2b2b2b" stroke-width="1.2" />
<path d="M969.7,472.5 C969.6,469.3 973.2,467.1 977.0,464.8 C980.8,462.6 988.9,459.7 992.5,459.2 C996.2,458.7 999.7,458.4 998.9,462.0 C998.1,465.6 990.2,476.9 987.8,481.0 C985.4,485.0 985.5,485.3 984.4,486.4 C983.2,487.5 981.9,488.0 980.9,487.6 C979.8,487.3 980.0,487.0 978.2,484.5 C976.3,481.9 969.9,475.8 969.7,472.5 Z" fill="none" stroke="#2b2b2b" stroke-width="1.2" />
<path d="M1005.7,463.1 C1007.5,459.7 1010.1,461.1 1012.8,462.5 C1015.5,463.8 1020.3,468.4 1022.0,471.2 C1023.7,474.1 1025.4,476.7 1023.0,479.6 C1020.6,482.5 1010.8,486.7 1007.5,488.6 C1004.1,490.5 1004.1,490.9 1003.0,490.9 C1001.9,491.0 1001.1,490.2 1000.9,488.9 C1000.7,487.7 1001.0,487.5 1001.8,483.2 C1002.6,478.9 1003.9,466.6 1005.7,463.1 Z" fill="none" stroke="#2b2b2b" stroke-width="1.2" />
<path d="M1025.2,485.9 C1027.9,484.0 1028.2,487.4 1028.9,490.7 C1029.5,494.0 1029.6,501.9 1029.0,505.9 C1028.5,509.8 1028.3,513.5 1025.5,514.4 C1022.7,515.4 1015.1,512.2 1012.3,511.5 C1009.5,510.8 1009.4,511.1 1008.7,510.3 C1008.1,509.5 1008.1,508.3 1008.7,506.9 C1009.3,505.5 1009.5,505.6 1012.2,502.1 C1015.0,498.6 1022.4,487.8 1025.2,485.9 Z" fill="none" stroke="#2b2b2b" stroke-width="1.2" />
<path d="M1023.9,521.3 C1026.5,521.5 1025.0,524.9 1024.0,528.5 C1023.0,532.1 1019.8,539.6 1017.8,542.9 C1015.9,546.2 1014.4,549.6 1012.3,548.5 C1010.1,547.3 1006.5,538.8 1005.0,536.1 C1003.5,533.4 1003.3,533.5 1003.3,532.3 C1003.2,531.2 1003.7,530.0 1004.6,529.1 C1005.6,528.2 1005.7,528.4 1008.9,527.1 C1012.1,525.8 1021.4,521.0 1023.9,521.3 Z" fill="none" stroke="#2b2b2b" stroke-width="1.2" />
<path d="M1009.3,553.1 C1010.8,555.2 1008.4,557.8 1006.2,561.0 C1003.9,564.1 998.6,569.9 995.8,572.1 C993.1,574.2 990.7,576.8 989.8,574.0 C988.9,571.3 990.3,559.5 990.5,555.5 C990.8,551.5 990.6,551.5 991.0,550.2 C991.5,548.9 992.4,547.9 993.4,547.7 C994.3,547.4 994.3,547.7 996.9,548.6 C999.6,549.5 1007.7,551.0 1009.3,553.1 Z" fill="none" stroke="#2b2b2b" stroke-width="1.2" />
<path d="M984.4,577.7 C984.4,581.1 981.3,582.4 978.0,584.2 C974.8,585.9 968.0,587.9 965.0,588.1 C962.0,588.2 959.0,588.7 959.8,585.1 C960.7,581.4 967.9,570.3 970.2,566.2 C972.4,562.2 972.3,562.0 973.3,561.0 C974.3,560.0 975.4,559.7 976.2,560.1 C977.0,560.6 976.9,560.9 978.2,563.8 C979.6,566.8 984.4,574.4 984.4,577.7 Z" fill="none" stroke="#2b2b2b" stroke-width="1.2" />
<path d="M953.1,583.9 C951.2,587.3 948.7,585.9 946.0,584.6 C943.3,583.2 938.6,578.7 936.9,575.9 C935.2,573.1 933.5,570.5 935.9,567.6 C938.3,564.7 948.1,560.4 951.4,558.5 C954.8,556.6 954.8,556.2 955.9,556.2 C957.0,556.1 957.8,556.8 958.0,558.1 C958.2,559.4 957.9,559.5 957.1,563.8 C956.3,568.1 954.9,580.4 953.1,583.9 Z" fill="none" stroke="#2b2b2b" stroke-width="1.2" />
<path d="M934.0,562.4 C931.3,564.3 930.6,560.3 930.0,556.1 C929.4,551.8 929.5,542.0 930.3,537.1 C931.1,532.3 931.9,527.6 934.7,526.9 C937.4,526.2 944.2,531.6 946.8,533.0 C949.4,534.3 949.7,534.0 950.2,535.1 C950.8,536.2 950.7,537.8 950.1,539.4 C949.5,541.0 949.3,540.9 946.6,544.7 C943.9,548.5 936.8,560.5 934.0,562.4 Z" fill="none" stroke="#2b2b2b" stroke-width="1.2" />
<path d="M938.9,514.0 C936.7,512.9 939.0,508.1 941.6,503.1 C944.2,498.1 950.8,488.3 954.3,484.2 C957.8,480.1 961.2,476.3 962.6,478.6 C964.0,480.8 962.5,493.6 962.5,497.8 C962.4,502.0 962.7,501.9 962.1,503.6 C961.6,505.3 960.5,506.9 959.3,507.9 C958.0,508.9 958.0,508.5 954.6,509.5 C951.2,510.6 941.0,515.1 938.9,514.0 Z" fill="none" stroke="#2b2b2b" stroke-width="1.2" />
<ellipse cx="993.7" cy="489.2" rx="2.2" ry="3.6" transform="rotate(28 993.7 489.2)" fill="none" stroke="#2b2b2b" stroke-width="1.0" />
<ellipse cx="994.0" cy="489.5" rx="1.0" ry="2.0" transform="rotate(28 994.0 489.5)" fill="none" stroke="#666" stroke-width="0.7" />
<ellipse cx="971.7" cy="496.5" rx="2.2" ry="3.6" transform="rotate(28 971.7 496.5)" fill="none" stroke="#2b2b2b" stroke-width="1.0" />
<ellipse cx="972.0" cy="496.8" rx="1.0" ry="2.0" transform="rotate(28 972.0 496.8)" fill="none" stroke="#666" stroke-width="0.7" />
<ellipse cx="1004.7" cy="500.2" rx="2.2" ry="3.6" transform="rotate(28 1004.7 500.2)" fill="none" stroke="#2b2b2b" stroke-width="1.0" />
<ellipse cx="1005.0" cy="500.5" rx="1.0" ry="2.0" transform="rotate(28 1005.0 500.5)" fill="none" stroke="#666" stroke-width="0.7" />
<ellipse cx="1005.7" cy="517.4" rx="2.2" ry="3.6" transform="rotate(28 1005.7 517.4)" fill="none" stroke="#2b2b2b" stroke-width="1.0" />
<ellipse cx="1006.0" cy="517.7" rx="1.0" ry="2.0" transform="rotate(28 1006.0 517.7)" fill="none" stroke="#666" stroke-width="0.7" />
<ellipse cx="997.0" cy="539.3" rx="2.2" ry="3.6" transform="rotate(28 997.0 539.3)" fill="none" stroke="#2b2b2b" stroke-width="1.0" />
<ellipse cx="997.3" cy="539.6" rx="1.0" ry="2.0" transform="rotate(28 997.3 539.6)" fill="none" stroke="#666" stroke-width="0.7" />
<ellipse cx="982.1" cy="554.3" rx="2.2" ry="3.6" transform="rotate(28 982.1 554.3)" fill="none" stroke="#2b2b2b" stroke-width="1.0" />
<ellipse cx="982.4" cy="554.6" rx="1.0" ry="2.0" transform="rotate(28 982.4 554.6)" fill="none" stroke="#666" stroke-width="0.7" />
<ellipse cx="967.0" cy="558.2" rx="2.2" ry="3.6" transform="rotate(28 967.0 558.2)" fill="none" stroke="#2b2b2b" stroke-width="1.0" />
<ellipse cx="967.3" cy="558.5" rx="1.0" ry="2.0" transform="rotate(28 967.3 558.5)" fill="none" stroke="#666" stroke-width="0.7" />
<ellipse cx="954.9" cy="548.6" rx="2.2" ry="3.6" transform="rotate(28 954.9 548.6)" fill="none" stroke="#2b2b2b" stroke-width="1.0" />
<ellipse cx="955.2" cy="548.9" rx="1.0" ry="2.0" transform="rotate(28 955.2 548.9)" fill="none" stroke="#666" stroke-width="0.7" />
<ellipse cx="955.4" cy="521.2" rx="2.2" ry="3.6" transform="rotate(28 955.4 521.2)" fill="none" stroke="#2b2b2b" stroke-width="1.0" />
<ellipse cx="955.7" cy="521.5" rx="1.0" ry="2.0" transform="rotate(28 955.7 521.5)" fill="none" stroke="#666" stroke-width="0.7" />
<ellipse cx="978.5" cy="523.5" rx="19" ry="27.5" transform="rotate(22 978.5 523.5)" fill="none" stroke="#2b2b2b" stroke-width="1.3" />
<line x1="955" y1="507" x2="1040" y2="555" stroke="#888" stroke-width="1" stroke-dasharray="12 3 2 3"/>
<line x1="1030" y1="554.5" x2="1122.7" y2="612.4" stroke="#888" stroke-width="1" stroke-dasharray="12 3 2 3"/>
<path d="M1053.3,521.2 L1064.5,527.5 L1062.5,532.5 L1052.1,526 C1050.5,525 1051,521.5 1053.3,521.2 Z" fill="#f4f4f4" stroke="#2b2b2b" stroke-width="1.1" />
<line x1="1054.5" y1="522.5" x2="1053.5" y2="526.5" stroke="#777" stroke-width="0.7" />
<line x1="1056.5" y1="523.6" x2="1055.5" y2="527.6" stroke="#777" stroke-width="0.7" />
<line x1="1058.5" y1="524.7" x2="1057.5" y2="528.7" stroke="#777" stroke-width="0.7" />
<line x1="1060.5" y1="525.8" x2="1059.5" y2="529.8" stroke="#777" stroke-width="0.7" />
<line x1="1062.5" y1="526.9" x2="1061.5" y2="530.9" stroke="#777" stroke-width="0.7" />
<ellipse cx="1067.2" cy="530.5" rx="3.8" ry="5.6" transform="rotate(28 1067.2 530.5)" fill="#fff" stroke="#2b2b2b" stroke-width="1.2" />
<ellipse cx="1067.8" cy="531" rx="1.4" ry="2" transform="rotate(28 1067.8 531)" fill="none" stroke="#777" stroke-width="0.8" />
<path d="M1057.6,584.3 L1057.6,582.9 L1057.7,581.5 L1057.9,580.1 L1058.2,578.7 L1058.5,577.2 L1059.0,575.8 L1059.5,574.4 L1060.0,573.1 L1060.7,571.7 L1061.4,570.4 L1062.1,569.2 L1062.9,568.0 L1063.8,566.8 L1064.7,565.7 L1065.7,564.7 L1066.7,563.8 L1067.8,562.9 L1068.8,562.1 L1069.9,561.4 L1071.1,560.7 L1072.2,560.2 L1073.3,559.8 L1077.3,558.3 L1078.5,557.9 L1079.6,557.7 L1080.8,557.5 L1081.9,557.5 L1083.0,557.5 L1084.1,557.6 L1085.1,557.9 L1086.1,558.2 L1087.1,558.7 L1088.0,559.2 L1088.9,559.8 L1089.8,560.5 L1090.5,561.3 L1091.2,562.2 L1091.9,563.1 L1092.5,564.1 L1093.0,565.2 L1093.4,566.4 L1093.8,567.6 L1094.0,568.8 L1094.2,570.1 L1094.4,571.5 L1094.4,572.8 L1094.4,574.2 L1094.3,575.6 L1094.1,577.0 L1093.8,578.4 L1093.5,579.9 L1093.0,581.3 L1092.5,582.7 L1092.0,584.0 L1091.3,585.4 L1090.6,586.7 L1089.9,587.9 L1089.1,589.1 L1088.2,590.3 L1087.3,591.4 L1086.3,592.4 L1085.3,593.3 L1084.2,594.2 L1083.2,595.0 L1082.1,595.7 L1080.9,596.4 L1079.8,596.9 L1078.7,597.3 L1074.7,598.8 L1073.5,599.2 L1072.4,599.4 L1071.2,599.6 L1070.1,599.6 L1069.0,599.6 L1067.9,599.5 L1066.9,599.2 L1065.9,598.9 L1064.9,598.4 L1064.0,597.9 L1063.1,597.3 L1062.2,596.6 L1061.5,595.8 L1060.8,594.9 L1060.1,594.0 L1059.5,593.0 L1059.0,591.9 L1058.6,590.7 L1058.2,589.5 L1058.0,588.3 L1057.8,587.0 L1057.6,585.6 Z" fill="#fff" stroke="#2b2b2b" stroke-width="1.4" />
<ellipse cx="1078" cy="577.8" rx="15.3" ry="21.2" transform="rotate(24 1078 577.8)" fill="none" stroke="#888" stroke-width="0.8" />
<ellipse cx="1077.5" cy="580.5" rx="7.7" ry="11" transform="rotate(24 1077.5 580.5)" fill="none" stroke="#2b2b2b" stroke-width="1.2" />
<ellipse cx="1078.5" cy="580" rx="6.5" ry="9.8" transform="rotate(24 1078.5 580)" fill="none" stroke="#888" stroke-width="0.7" />
<path d="M1035.0,647.0 L1081.3,620.6" fill="none" stroke="#8f8f8f" stroke-width="1" />
<path d="M1081.3,620.6 L1086.3,617.3 L1137.6,589.1 L1142.5,588.3 L1159.1,597.4 L1160.7,599.1" fill="none" stroke="#8f8f8f" stroke-width="1" />
<path d="M1109.4,604.9 L1124.3,614.8 L1160.7,599.1" fill="none" stroke="#8f8f8f" stroke-width="1" />
<path d="M1137.6,589.1 L1155.0,598.0" fill="none" stroke="#8f8f8f" stroke-width="1" />
<path d="M1083.8,619.0 C1086.0,619.5 1092.6,620.6 1097.0,622.0 C1101.4,623.4 1106.2,625.6 1110.0,627.5 C1113.8,629.4 1119.3,631.4 1119.5,633.5 C1119.7,635.6 1113.5,637.4 1111.0,640.0 C1108.5,642.6 1106.0,645.6 1104.5,649.0 C1103.0,652.4 1102.1,656.6 1102.3,660.5 C1102.5,664.4 1104.2,668.9 1105.5,672.5 C1106.8,676.1 1109.2,680.4 1110.0,682.0" fill="none" stroke="#939393" stroke-width="7" />
<path d="M1083.8,619.0 C1086.0,619.5 1092.6,620.6 1097.0,622.0 C1101.4,623.4 1106.2,625.6 1110.0,627.5 C1113.8,629.4 1119.3,631.4 1119.5,633.5 C1119.7,635.6 1113.5,637.4 1111.0,640.0 C1108.5,642.6 1106.0,645.6 1104.5,649.0 C1103.0,652.4 1102.1,656.6 1102.3,660.5 C1102.5,664.4 1104.2,668.9 1105.5,672.5 C1106.8,676.1 1109.2,680.4 1110.0,682.0" fill="none" stroke="#fff" stroke-width="5" />
<path d="M1083.8,619.0 C1086.0,619.5 1092.6,620.6 1097.0,622.0 C1101.4,623.4 1106.2,625.6 1110.0,627.5 C1113.8,629.4 1119.3,631.4 1119.5,633.5 C1119.7,635.6 1113.5,637.4 1111.0,640.0 C1108.5,642.6 1106.0,645.6 1104.5,649.0 C1103.0,652.4 1102.1,656.6 1102.3,660.5 C1102.5,664.4 1104.2,668.9 1105.5,672.5 C1106.8,676.1 1109.2,680.4 1110.0,682.0" fill="none" stroke="#aaa" stroke-width="5" stroke-dasharray="0.7 1.4" stroke-linecap="butt"/>
<path d="M1124.3,614.8 C1121,622 1120,628 1119.5,633 C1125,640 1135,640 1147,632 C1153,626 1153,612 1149,605" fill="none" stroke="#8f8f8f" stroke-width="1" />
<path d="M1129,624 C1132,616 1139,611 1144,613 C1148,618 1146,627 1140,631" fill="none" stroke="#8f8f8f" stroke-width="1" />
<path d="M1152.5,603.2 L1153.3,629.7 L1160.7,636.3" fill="none" stroke="#8f8f8f" stroke-width="1" />
<path d="M1046.5,671.9 L1101.2,640.4" fill="none" stroke="#8f8f8f" stroke-width="1" />
<path d="M1049.9,676.8 L1099.5,650.4" fill="none" stroke="#8f8f8f" stroke-width="1" />
<path d="M1111.0,646.2 L1160.7,622.0" fill="none" stroke="#8f8f8f" stroke-width="1" />
<path d="M1112.0,653.0 L1160.7,630.0" fill="none" stroke="#8f8f8f" stroke-width="1" />
<path d="M1056.5,719.0 L1107.8,682.6" fill="none" stroke="#8f8f8f" stroke-width="1" />
<path d="M1112.0,682.0 L1119.4,677.7 L1124.3,659.5 L1159.0,638.0" fill="none" stroke="#8f8f8f" stroke-width="1" />
<path d="M916.1,640.8 C919.7,640.0 922.6,638.6 925.5,636.3 A2.8,2.8 0 0 1 927.9,641.4 C924.3,642.2 921.4,643.6 918.5,645.9 A2.8,2.8 0 0 1 916.1,640.8 Z" fill="#ececec" stroke="#3a3a3a" stroke-width="0.9" />
<path d="M926.0,635.8 C930.1,634.8 933.4,633.2 936.8,630.6 A3.1,3.1 0 0 1 939.4,636.2 C935.3,637.2 932.0,638.8 928.6,641.4 A3.1,3.1 0 0 1 926.0,635.8 Z" fill="#dcdcdc" stroke="#3a3a3a" stroke-width="1.0" />
<path d="M937.4,630.7 C941.0,629.9 943.9,628.5 946.8,626.2 A2.8,2.8 0 0 1 949.2,631.3 C945.6,632.1 942.7,633.5 939.8,635.8 A2.8,2.8 0 0 1 937.4,630.7 Z" fill="#ececec" stroke="#3a3a3a" stroke-width="0.9" />
<path d="M947.3,625.7 C951.4,624.7 954.7,623.1 958.1,620.5 A3.1,3.1 0 0 1 960.7,626.1 C956.6,627.1 953.3,628.7 949.9,631.3 A3.1,3.1 0 0 1 947.3,625.7 Z" fill="#dcdcdc" stroke="#3a3a3a" stroke-width="1.0" />
<path d="M958.8,620.6 C962.4,619.8 965.3,618.4 968.2,616.1 A2.8,2.8 0 0 1 970.6,621.2 C967.0,622.0 964.1,623.4 961.2,625.7 A2.8,2.8 0 0 1 958.8,620.6 Z" fill="#ececec" stroke="#3a3a3a" stroke-width="0.9" />
<path d="M968.6,615.6 C972.7,614.6 976.0,613.0 979.4,610.4 A3.1,3.1 0 0 1 982.0,616.0 C977.9,617.0 974.6,618.6 971.2,621.2 A3.1,3.1 0 0 1 968.6,615.6 Z" fill="#dcdcdc" stroke="#3a3a3a" stroke-width="1.0" />
<path d="M980.1,610.5 C983.7,609.7 986.6,608.3 989.5,606.0 A2.8,2.8 0 0 1 991.9,611.1 C988.3,611.9 985.4,613.3 982.5,615.6 A2.8,2.8 0 0 1 980.1,610.5 Z" fill="#ececec" stroke="#3a3a3a" stroke-width="0.9" />
<path d="M913.3,636.7 C917.4,635.7 920.7,634.1 924.1,631.5 A3.1,3.1 0 0 1 926.7,637.1 C922.6,638.1 919.3,639.7 915.9,642.3 A3.1,3.1 0 0 1 913.3,636.7 Z" fill="#dcdcdc" stroke="#3a3a3a" stroke-width="1.0" />
<path d="M924.8,631.6 C928.4,630.8 931.3,629.4 934.2,627.1 A2.8,2.8 0 0 1 936.6,632.2 C933.0,633.0 930.1,634.4 927.2,636.7 A2.8,2.8 0 0 1 924.8,631.6 Z" fill="#ececec" stroke="#3a3a3a" stroke-width="0.9" />
<path d="M934.6,626.6 C938.7,625.6 942.0,624.0 945.4,621.4 A3.1,3.1 0 0 1 948.0,627.0 C943.9,628.0 940.6,629.6 937.2,632.2 A3.1,3.1 0 0 1 934.6,626.6 Z" fill="#dcdcdc" stroke="#3a3a3a" stroke-width="1.0" />
<path d="M946.1,621.5 C949.7,620.7 952.6,619.3 955.5,617.0 A2.8,2.8 0 0 1 957.9,622.1 C954.3,622.9 951.4,624.3 948.5,626.6 A2.8,2.8 0 0 1 946.1,621.5 Z" fill="#ececec" stroke="#3a3a3a" stroke-width="0.9" />
<path d="M956.0,616.5 C960.1,615.5 963.4,613.9 966.8,611.3 A3.1,3.1 0 0 1 969.4,616.9 C965.3,617.9 962.0,619.5 958.6,622.1 A3.1,3.1 0 0 1 956.0,616.5 Z" fill="#dcdcdc" stroke="#3a3a3a" stroke-width="1.0" />
<path d="M967.5,611.4 C971.1,610.6 974.0,609.2 976.9,606.9 A2.8,2.8 0 0 1 979.3,612.0 C975.7,612.8 972.8,614.2 969.9,616.5 A2.8,2.8 0 0 1 967.5,611.4 Z" fill="#ececec" stroke="#3a3a3a" stroke-width="0.9" />
<path d="M977.3,606.4 C981.4,605.4 984.7,603.8 988.1,601.2 A3.1,3.1 0 0 1 990.7,606.8 C986.6,607.8 983.3,609.4 979.9,612.0 A3.1,3.1 0 0 1 977.3,606.4 Z" fill="#dcdcdc" stroke="#3a3a3a" stroke-width="1.0" />
<circle cx="914.7" cy="639.4" r="1.0" fill="#555"/>
<circle cx="916.7" cy="643.6" r="1.0" fill="#555"/>
<circle cx="925.3" cy="634.4" r="1.0" fill="#555"/>
<circle cx="927.3" cy="638.6" r="1.0" fill="#555"/>
<circle cx="936.0" cy="629.3" r="1.0" fill="#555"/>
<circle cx="938.0" cy="633.5" r="1.0" fill="#555"/>
<circle cx="946.7" cy="624.3" r="1.0" fill="#555"/>
<circle cx="948.7" cy="628.5" r="1.0" fill="#555"/>
<circle cx="957.4" cy="619.2" r="1.0" fill="#555"/>
<circle cx="959.3" cy="623.4" r="1.0" fill="#555"/>
<circle cx="968.0" cy="614.2" r="1.0" fill="#555"/>
<circle cx="970.0" cy="618.4" r="1.0" fill="#555"/>
<circle cx="978.7" cy="609.1" r="1.0" fill="#555"/>
<circle cx="980.7" cy="613.3" r="1.0" fill="#555"/>
<circle cx="989.4" cy="604.1" r="1.0" fill="#555"/>
<circle cx="991.3" cy="608.3" r="1.0" fill="#555"/>
<path d="M946.5,683 C944.5,679 948,676 952,677 L958,676.5 L962,675.5 C965,676 965.5,679 963,680.5 L964,684 C965,686.5 962,688 960,686 L953,686.5 C949,687.5 947,685.5 946.5,683 Z" fill="#efefef" stroke="#333" stroke-width="1.1" />
<line x1="953" y1="680" x2="963" y2="677" stroke="#444" stroke-width="0.9" />
<line x1="955" y1="684" x2="964" y2="682" stroke="#444" stroke-width="0.9" />
<path d="M965.5,690.5 C965,686 969,684.5 972,686 C975,684 979,684.5 979.5,688 C980,691.5 977,694 974,693 C971,695.5 966,695 965.5,690.5 Z" fill="#efefef" stroke="#333" stroke-width="1.1" />
<ellipse cx="968.5" cy="690.5" rx="1.2" ry="1.5" transform="rotate(0 968.5 690.5)" fill="none" stroke="#333" stroke-width="0.8" />
<ellipse cx="976" cy="688" rx="1.2" ry="1.5" transform="rotate(0 976 688)" fill="none" stroke="#333" stroke-width="0.8" />
<ellipse cx="985.5" cy="696" rx="7.5" ry="4.2" transform="rotate(-30 985.5 696)" fill="#efefef" stroke="#333" stroke-width="1.2" />
<ellipse cx="985.5" cy="696" rx="4.5" ry="1.8" transform="rotate(-30 985.5 696)" fill="none" stroke="#444" stroke-width="0.9" />
<path d="M981,697 C983,694 987,693 990,694" fill="none" stroke="#333" stroke-width="0.9" />
<path d="M265.0,92.0 L289.5,56.9 L296.6,56.9" fill="none" stroke="#a6a6a6" stroke-width="1" />
<path d="M309.3,101.2 L329.1,81.4 L337.0,81.4" fill="none" stroke="#a6a6a6" stroke-width="1" />
<path d="M337.8,127.3 L368.7,104.8 L376.6,104.8" fill="none" stroke="#a6a6a6" stroke-width="1" />
<path d="M403.5,171.7 L428.8,140.0 L436.7,140.0" fill="none" stroke="#a6a6a6" stroke-width="1" />
<path d="M479.0,185.0 L488.8,160.6 L496.5,160.6" fill="none" stroke="#a6a6a6" stroke-width="1" />
<path d="M570.0,183.7 L584.4,150.6 L593.5,150.6" fill="none" stroke="#a6a6a6" stroke-width="1" />
<path d="M941.5,216.6 L1008.8,241.2 L875.0,276.8" fill="none" stroke="#a6a6a6" stroke-width="1" />
<circle cx="875" cy="276.8" r="1.2" fill="#222"/>
<path d="M810.0,302.0 L997.0,268.0" fill="none" stroke="#a6a6a6" stroke-width="1" />
<path d="M788.8,312.8 L997.0,298.0" fill="none" stroke="#a6a6a6" stroke-width="1" />
<path d="M813.0,380.0 L970.0,326.0" fill="none" stroke="#a6a6a6" stroke-width="1" />
<path d="M908.0,444.0 L960.0,375.0 L970.0,374.0" fill="none" stroke="#a6a6a6" stroke-width="1" />
<path d="M1057.3,521.4 L1064.8,500.7 L1072.2,500.7" fill="none" stroke="#a6a6a6" stroke-width="1" />
<path d="M1092.9,564.4 L1103.6,547.0 L1111.0,547.0" fill="none" stroke="#a6a6a6" stroke-width="1" />
<path d="M923.0,590.5 L910.0,612.0 L906.0,615.0 L899.0,615.0" fill="none" stroke="#a6a6a6" stroke-width="1" />
<path d="M919.3,647.3 L911.8,669.0 L905.0,669.7" fill="none" stroke="#a6a6a6" stroke-width="1" />
<path d="M940.3,638.5 L944.4,671.1" fill="none" stroke="#a6a6a6" stroke-width="1" />
<path d="M940.3,638.5 L951.9,668.4 L971.6,657.5 L979.7,659.5" fill="none" stroke="#a6a6a6" stroke-width="1" />
<path d="M918.6,695.5 L918.6,687.4 L944.4,671.1" fill="none" stroke="#a6a6a6" stroke-width="1" />
<path d="M951.2,718.0 L948.5,686.0" fill="none" stroke="#a6a6a6" stroke-width="1" />
<path d="M951.2,718.0 L964.8,696.2" fill="none" stroke="#a6a6a6" stroke-width="1" />
<path d="M951.2,718.0 L975.7,702.3" fill="none" stroke="#a6a6a6" stroke-width="1" />
<path d="M945.0,718.5 L951.2,718.0" fill="none" stroke="#a6a6a6" stroke-width="1" />
<path d="M677.0,456.0 L670.0,612.0 L664.0,612.0" fill="none" stroke="#a6a6a6" stroke-width="1" />
<path d="M730.0,440.0 L721.0,612.0 L715.0,612.0" fill="none" stroke="#a6a6a6" stroke-width="1" />
<path d="M334.6,67.2 C337,65 341,65.5 344,67.5 L395,96 C398,97.5 400,97 401.5,95.5 C402,98 404,100 407,102 L451,127 C454,129 456,133 455.7,136.8" fill="none" stroke="#2b2b2b" stroke-width="1.6" />
<path d="M1016,232 C1020,232 1022,235 1022,240 L1022,300 C1022,304 1023,306 1025,307 C1023,308 1022,310 1022,314 L1022,376 C1022,381 1020,384 1016,384" fill="none" stroke="#2b2b2b" stroke-width="1.6" />
<path d="M986,313 C990,313 992,316 992,320 L992,343 C992,346 993,347 995,348 C993,349 992,350 992,353 L992,376 C992,380 990,383 986,383" fill="none" stroke="#2b2b2b" stroke-width="1.6" />
<path d="M635,619 C635,623 638,624.5 642,624.5 L676,624.5 C680,624.5 682,626.5 683.3,629 C684.5,626.5 686.5,624.5 690.5,624.5 L727,624.5 C731,624.5 734.5,623 734.5,619" fill="none" stroke="#2b2b2b" stroke-width="1.7" />
<text x="299" y="62.5" font-size="14" text-anchor="start">1</text>
<text x="339" y="85.5" font-size="14" text-anchor="start">3</text>
<text x="401" y="92.5" font-size="14" text-anchor="start">2</text>
<text x="379" y="109" font-size="14" text-anchor="start">4</text>
<text x="440" y="144.7" font-size="14" text-anchor="start">5</text>
<text x="499" y="164" font-size="14" text-anchor="start">6</text>
<text x="596" y="153" font-size="14" text-anchor="start">7</text>
<text x="998.5" y="272.3" font-size="14" text-anchor="start">13</text>
<text x="999" y="302.6" font-size="14" text-anchor="start">11</text>
<text x="1029" y="313" font-size="14" text-anchor="start">9</text>
<text x="975" y="330.2" font-size="14" text-anchor="start">8</text>
<text x="999" y="353.5" font-size="14" text-anchor="start">2</text>
<text x="975" y="375.7" font-size="14" text-anchor="start">4</text>
<text x="1076" y="502.3" font-size="14" text-anchor="start">16</text>
<text x="1114.5" y="549.5" font-size="14" text-anchor="start">1</text>
<text x="884" y="619.5" font-size="14" text-anchor="start">10</text>
<text x="886.5" y="672.5" font-size="14" text-anchor="start">15</text>
<text x="929" y="724" font-size="14" text-anchor="start">14</text>
<text x="645.5" y="617" font-size="14" text-anchor="start">13</text>
<text x="697.5" y="617" font-size="14" text-anchor="start">12</text>
<text x="679.5" y="642" font-size="14" text-anchor="start">9</text>
<text x="0" y="0" transform="translate(49.8 739.8) rotate(-90)" font-size="14" textLength="37" lengthAdjust="spacingAndGlyphs" style="font-weight:normal;fill:#40669c;stroke:none">TM0119</text>
</svg>
</body></html>
